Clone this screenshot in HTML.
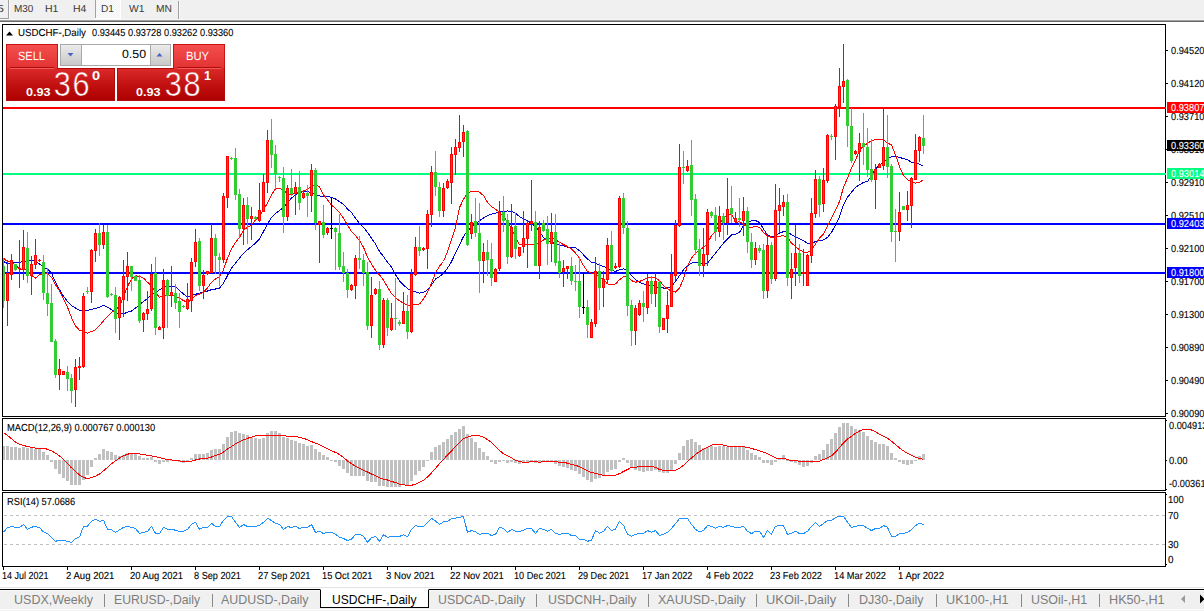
<!DOCTYPE html>
<html><head><meta charset="utf-8"><title>USDCHF-,Daily</title>
<style>
html,body{margin:0;padding:0;background:#fff;}
body{width:1204px;height:611px;position:relative;overflow:hidden;font-family:"Liberation Sans", sans-serif;}
.t{position:absolute;white-space:pre;transform-origin:0 0;line-height:normal;font-family:"Liberation Sans", sans-serif;}
.a{position:absolute;}
#chart{position:absolute;left:0;top:0;}
</style></head><body>
<!-- toolbar -->
<div class="a" style="left:0;top:0;width:1204px;height:20px;background:#f0f0f0"></div>
<div class="a" style="left:0;top:19px;width:1204px;height:1px;background:#f6f6f6"></div>
<div class="a" style="left:0;top:20px;width:1204px;height:1px;background:#a0a0a0"></div>
<div class="a" style="left:0;top:21px;width:1204px;height:1px;background:#696969"></div>
<div class="a" style="left:0;top:18px;width:9px;height:1px;background:#a0a0a0"></div>
<div class="a" style="left:8px;top:0;width:1px;height:19px;background:#a0a0a0"></div>
<div class="a" style="left:9px;top:0;width:1px;height:19px;background:#fafafa"></div>
<div class="a" style="left:95px;top:0px;width:1px;height:18px;background:#a0a0a0"></div>
<div class="a" style="left:96px;top:0;width:24px;height:18px;background-color:#f0f0f0;background-image:linear-gradient(45deg,#fff 25%,transparent 25%,transparent 75%,#fff 75%),linear-gradient(45deg,#fff 25%,transparent 25%,transparent 75%,#fff 75%);background-size:2px 2px;background-position:0 0,1px 1px"></div>
<div class="a" style="left:95px;top:18px;width:26px;height:1px;background:#fff"></div>
<div class="a" style="left:120px;top:0;width:1px;height:18px;background:#fff"></div>
<div class="a" style="left:178px;top:1px;width:1px;height:18px;background:#a0a0a0"></div>
<div class="a" style="left:179px;top:1px;width:1px;height:18px;background:#fafafa"></div>

<svg id="chart" width="1204" height="611" viewBox="0 0 1204 611" shape-rendering="crispEdges">
<rect x="1166" y="50" width="2" height="1" fill="#000"/>
<rect x="1166" y="83" width="2" height="1" fill="#000"/>
<rect x="1166" y="116" width="2" height="1" fill="#000"/>
<rect x="1166" y="149" width="2" height="1" fill="#000"/>
<rect x="1166" y="182" width="2" height="1" fill="#000"/>
<rect x="1166" y="215" width="2" height="1" fill="#000"/>
<rect x="1166" y="248" width="2" height="1" fill="#000"/>
<rect x="1166" y="281" width="2" height="1" fill="#000"/>
<rect x="1166" y="314" width="2" height="1" fill="#000"/>
<rect x="1166" y="347" width="2" height="1" fill="#000"/>
<rect x="1166" y="380" width="2" height="1" fill="#000"/>
<rect x="1166" y="413" width="2" height="1" fill="#000"/>
<rect x="1166" y="420" width="1" height="1" fill="#000"/>
<rect x="1166" y="460" width="1" height="1" fill="#000"/>
<rect x="1166" y="489" width="1" height="1" fill="#000"/>
<rect x="1166" y="494" width="1" height="1" fill="#000"/>
<rect x="1166" y="564" width="1" height="1" fill="#000"/>
<rect x="3" y="567" width="1" height="3" fill="#000"/>
<rect x="67" y="567" width="1" height="3" fill="#000"/>
<rect x="131" y="567" width="1" height="3" fill="#000"/>
<rect x="195" y="567" width="1" height="3" fill="#000"/>
<rect x="259" y="567" width="1" height="3" fill="#000"/>
<rect x="323" y="567" width="1" height="3" fill="#000"/>
<rect x="387" y="567" width="1" height="3" fill="#000"/>
<rect x="451" y="567" width="1" height="3" fill="#000"/>
<rect x="515" y="567" width="1" height="3" fill="#000"/>
<rect x="579" y="567" width="1" height="3" fill="#000"/>
<rect x="643" y="567" width="1" height="3" fill="#000"/>
<rect x="707" y="567" width="1" height="3" fill="#000"/>
<rect x="771" y="567" width="1" height="3" fill="#000"/>
<rect x="835" y="567" width="1" height="3" fill="#000"/>
<rect x="899" y="567" width="1" height="3" fill="#000"/>
<line x1="4" y1="515.5" x2="1165" y2="515.5" stroke="#c0c0c0" stroke-width="1" stroke-dasharray="3 3"/>
<line x1="4" y1="544.5" x2="1165" y2="544.5" stroke="#c0c0c0" stroke-width="1" stroke-dasharray="3 3"/>
<g shape-rendering="auto">
<rect x="3" y="107" width="1163" height="2" fill="#ff0000"/>
<rect x="3" y="173" width="1163" height="2" fill="#00ff80"/>
<rect x="3" y="223" width="1163" height="2" fill="#0000ff"/>
<rect x="3" y="272" width="1163" height="2" fill="#0000ff"/>
<polyline points="3.5,261.5 7.5,263.5 11.5,262.9 15.5,262.4 19.5,262.4 23.5,261.5 27.5,260.7 31.5,260.7 35.5,260.7 39.5,264.0 43.5,267.3 47.5,269.0 51.5,273.2 55.5,282.3 59.5,289.8 63.5,296.4 67.5,301.4 71.5,305.5 75.5,308.0 79.5,310.5 83.5,310.5 87.5,310.5 91.5,309.4 95.5,308.4 99.5,307.2 103.5,305.5 107.5,307.2 111.5,309.7 115.5,312.2 119.5,313.9 123.5,313.9 127.5,312.2 131.5,311.0 135.5,308.0 139.5,304.7 143.5,301.4 147.5,298.5 151.5,294.3 155.5,293.1 159.5,289.8 163.5,287.3 167.5,286.4 171.5,286.1 175.5,286.8 179.5,290.6 183.5,293.9 187.5,297.2 191.5,295.6 195.5,294.3 199.5,293.1 203.5,292.2 207.5,291.0 211.5,289.7 215.5,289.0 219.5,288.0 223.5,283.1 227.5,275.6 231.5,268.1 235.5,263.1 239.5,258.1 243.5,253.2 247.5,249.8 251.5,246.5 255.5,243.2 259.5,239.0 263.5,231.6 267.5,224.1 271.5,217.4 275.5,213.3 279.5,210.8 283.5,206.9 287.5,202.8 291.5,198.0 295.5,194.7 299.5,192.7 303.5,191.7 307.5,191.4 311.5,192.7 315.5,195.0 319.5,196.0 323.5,196.4 327.5,196.7 331.5,197.2 335.5,198.9 339.5,201.8 343.5,204.3 347.5,209.0 351.5,212.5 355.5,218.3 359.5,223.3 363.5,227.4 367.5,232.4 371.5,238.2 375.5,244.0 379.5,251.5 383.5,256.5 387.5,262.3 391.5,267.0 395.5,274.9 399.5,280.8 403.5,284.9 407.5,288.6 411.5,290.7 415.5,291.9 419.5,293.2 423.5,292.4 427.5,289.9 431.5,284.9 435.5,279.1 439.5,276.6 443.5,273.6 447.5,268.2 451.5,261.6 455.5,253.2 459.5,244.9 463.5,236.5 467.5,230.7 471.5,227.4 475.5,224.1 479.5,220.8 483.5,217.9 487.5,215.8 491.5,214.1 495.5,213.3 499.5,211.3 503.5,211.1 507.5,211.0 511.5,211.3 515.5,213.3 519.5,216.6 523.5,219.1 527.5,220.8 531.5,223.3 535.5,226.6 539.5,231.6 543.5,237.4 547.5,240.7 551.5,242.4 555.5,243.6 559.5,245.2 563.5,245.7 567.5,247.3 571.5,247.7 575.5,247.7 579.5,250.7 583.5,254.8 587.5,259.0 591.5,262.3 595.5,263.1 599.5,265.2 603.5,266.4 607.5,267.8 611.5,270.6 615.5,271.4 619.5,269.8 623.5,268.9 627.5,270.6 631.5,275.6 635.5,279.7 639.5,282.2 643.5,283.9 647.5,284.7 651.5,285.5 655.5,286.4 659.5,287.7 663.5,288.0 667.5,288.0 671.5,286.4 675.5,281.4 679.5,275.6 683.5,269.8 687.5,265.6 691.5,263.1 695.5,262.6 699.5,263.1 703.5,264.5 707.5,263.1 711.5,258.1 715.5,253.2 719.5,248.2 723.5,243.2 727.5,239.0 731.5,234.9 735.5,234.1 739.5,232.4 743.5,225.8 747.5,222.5 751.5,220.8 755.5,220.5 759.5,222.5 763.5,229.1 767.5,234.9 771.5,236.6 775.5,235.7 779.5,233.3 783.5,231.6 787.5,231.6 791.5,234.9 795.5,236.6 799.5,238.6 803.5,240.7 807.5,243.2 811.5,243.2 815.5,241.6 819.5,240.7 823.5,239.9 827.5,237.4 831.5,232.4 835.5,225.0 839.5,216.6 843.5,204.8 847.5,197.3 851.5,192.3 855.5,187.3 859.5,184.8 863.5,182.3 867.5,181.5 871.5,175.7 875.5,169.0 879.5,164.9 883.5,162.8 887.5,158.7 891.5,156.6 895.5,156.6 899.5,157.4 903.5,158.6 907.5,159.9 911.5,162.1 915.5,162.7 919.5,164.1 923.5,166.5" fill="none" stroke="#0000cd" stroke-width="1" shape-rendering="crispEdges"/>
<polyline points="3.5,258.2 7.5,261.5 11.5,262.4 15.5,264.9 19.5,269.0 23.5,269.0 27.5,270.7 31.5,275.6 35.5,278.1 39.5,274.8 43.5,273.2 47.5,274.0 51.5,277.3 55.5,284.8 59.5,290.6 63.5,298.9 67.5,307.2 71.5,317.7 75.5,325.8 79.5,330.3 83.5,331.6 87.5,333.1 91.5,331.6 95.5,329.6 99.5,325.8 103.5,320.8 107.5,316.6 111.5,312.5 115.5,309.7 119.5,306.4 123.5,296.4 127.5,286.4 131.5,279.0 135.5,275.6 139.5,276.5 143.5,278.1 147.5,282.3 151.5,285.6 155.5,293.1 159.5,297.2 163.5,296.4 167.5,295.6 171.5,295.6 175.5,296.4 179.5,298.1 183.5,300.6 187.5,302.2 191.5,299.7 195.5,295.5 199.5,294.0 203.5,292.2 207.5,288.0 211.5,282.2 215.5,278.9 219.5,276.7 223.5,269.8 227.5,258.1 231.5,249.0 235.5,242.4 239.5,237.4 243.5,229.9 247.5,227.4 251.5,224.9 255.5,219.9 259.5,215.8 263.5,210.0 267.5,202.8 271.5,194.7 275.5,188.9 279.5,188.7 283.5,189.7 287.5,193.9 291.5,194.7 295.5,193.1 299.5,191.4 303.5,190.9 307.5,189.4 311.5,186.1 315.5,185.1 319.5,186.7 323.5,194.7 327.5,199.7 331.5,205.2 335.5,208.3 339.5,212.5 343.5,218.3 347.5,224.9 351.5,231.6 355.5,235.7 359.5,240.7 363.5,247.3 367.5,257.3 371.5,264.1 375.5,270.3 379.5,274.9 383.5,280.2 387.5,286.9 391.5,293.5 395.5,297.7 399.5,300.7 403.5,303.2 407.5,305.2 411.5,305.2 415.5,304.7 419.5,304.0 423.5,299.0 427.5,292.4 431.5,283.3 435.5,272.8 439.5,266.2 443.5,261.5 447.5,251.5 451.5,239.9 455.5,227.4 459.5,207.7 463.5,199.2 467.5,193.1 471.5,191.4 475.5,191.1 479.5,192.2 483.5,195.5 487.5,202.2 491.5,206.5 495.5,209.1 499.5,212.5 503.5,216.6 507.5,221.6 511.5,228.2 515.5,237.4 519.5,244.9 523.5,244.5 527.5,244.4 531.5,244.4 535.5,244.0 539.5,243.2 543.5,239.9 547.5,238.2 551.5,237.9 555.5,239.5 559.5,242.4 563.5,244.5 567.5,246.5 571.5,249.0 575.5,253.2 579.5,258.1 583.5,265.6 587.5,271.4 591.5,273.1 595.5,273.9 599.5,277.1 603.5,279.4 607.5,283.9 611.5,284.7 615.5,283.9 619.5,279.7 623.5,276.7 627.5,276.4 631.5,280.6 635.5,282.2 639.5,281.4 643.5,279.7 647.5,278.1 651.5,277.7 655.5,278.1 659.5,280.6 663.5,285.5 667.5,288.9 671.5,291.0 675.5,292.2 679.5,288.0 683.5,278.9 687.5,265.6 691.5,258.1 695.5,253.2 699.5,249.8 703.5,247.3 707.5,243.2 711.5,235.7 715.5,231.6 719.5,224.9 723.5,217.4 727.5,215.0 731.5,214.1 735.5,222.5 739.5,221.6 743.5,224.1 747.5,227.4 751.5,227.4 755.5,226.6 759.5,227.4 763.5,232.4 767.5,235.7 771.5,237.4 775.5,237.0 779.5,236.2 783.5,235.7 787.5,237.4 791.5,243.2 795.5,246.5 799.5,249.9 803.5,251.9 807.5,252.4 811.5,249.9 815.5,244.1 819.5,238.2 823.5,234.1 827.5,225.8 831.5,218.3 835.5,210.3 839.5,201.4 843.5,187.3 847.5,178.2 851.5,168.2 855.5,159.9 859.5,150.8 863.5,145.8 867.5,143.3 871.5,140.8 875.5,139.5 879.5,139.1 883.5,140.0 887.5,142.9 891.5,145.0 895.5,154.9 899.5,166.5 903.5,175.7 907.5,179.8 911.5,181.5 915.5,183.2 919.5,182.3 923.5,179.8" fill="none" stroke="#ff0000" stroke-width="1" shape-rendering="crispEdges"/>
<rect x="3" y="258" width="1" height="50" fill="#32cd32"/>
<rect x="2" y="266" width="3" height="35" fill="#32cd32"/>
<rect x="7" y="260" width="1" height="66" fill="#ff0000"/>
<rect x="6" y="273" width="3" height="28" fill="#ff0000"/>
<rect x="7" y="274" width="1" height="26" fill="#ff4500"/>
<rect x="11" y="254" width="1" height="26" fill="#ff0000"/>
<rect x="10" y="260" width="3" height="15" fill="#ff0000"/>
<rect x="11" y="261" width="1" height="13" fill="#ff4500"/>
<rect x="15" y="264" width="1" height="7" fill="#32cd32"/>
<rect x="14" y="264" width="3" height="6" fill="#32cd32"/>
<rect x="19" y="240" width="1" height="48" fill="#ff0000"/>
<rect x="18" y="268" width="3" height="1" fill="#ff0000"/>
<rect x="23" y="230" width="1" height="50" fill="#ff0000"/>
<rect x="22" y="247" width="3" height="23" fill="#ff0000"/>
<rect x="23" y="248" width="1" height="21" fill="#ff4500"/>
<rect x="27" y="232" width="1" height="51" fill="#32cd32"/>
<rect x="26" y="248" width="3" height="28" fill="#32cd32"/>
<rect x="31" y="256" width="1" height="39" fill="#ff0000"/>
<rect x="30" y="264" width="3" height="12" fill="#ff0000"/>
<rect x="31" y="265" width="1" height="10" fill="#ff4500"/>
<rect x="35" y="239" width="1" height="30" fill="#ff0000"/>
<rect x="34" y="255" width="3" height="10" fill="#ff0000"/>
<rect x="35" y="256" width="1" height="8" fill="#ff4500"/>
<rect x="39" y="259" width="1" height="3" fill="#ff0000"/>
<rect x="38" y="260" width="3" height="1" fill="#ff0000"/>
<rect x="43" y="255" width="1" height="45" fill="#32cd32"/>
<rect x="42" y="262" width="3" height="31" fill="#32cd32"/>
<rect x="47" y="268" width="1" height="48" fill="#32cd32"/>
<rect x="46" y="293" width="3" height="11" fill="#32cd32"/>
<rect x="51" y="284" width="1" height="58" fill="#32cd32"/>
<rect x="50" y="303" width="3" height="39" fill="#32cd32"/>
<rect x="55" y="339" width="1" height="39" fill="#32cd32"/>
<rect x="54" y="341" width="3" height="34" fill="#32cd32"/>
<rect x="59" y="359" width="1" height="31" fill="#ff0000"/>
<rect x="58" y="369" width="3" height="6" fill="#ff0000"/>
<rect x="59" y="370" width="1" height="4" fill="#ff4500"/>
<rect x="63" y="371" width="1" height="4" fill="#ff0000"/>
<rect x="62" y="371" width="3" height="4" fill="#ff0000"/>
<rect x="63" y="372" width="1" height="2" fill="#ff4500"/>
<rect x="67" y="366" width="1" height="25" fill="#32cd32"/>
<rect x="66" y="372" width="3" height="7" fill="#32cd32"/>
<rect x="71" y="374" width="1" height="29" fill="#32cd32"/>
<rect x="70" y="378" width="3" height="13" fill="#32cd32"/>
<rect x="75" y="359" width="1" height="48" fill="#ff0000"/>
<rect x="74" y="367" width="3" height="23" fill="#ff0000"/>
<rect x="75" y="368" width="1" height="21" fill="#ff4500"/>
<rect x="79" y="357" width="1" height="23" fill="#ff0000"/>
<rect x="78" y="366" width="3" height="2" fill="#ff0000"/>
<rect x="83" y="293" width="1" height="75" fill="#ff0000"/>
<rect x="82" y="296" width="3" height="71" fill="#ff0000"/>
<rect x="83" y="297" width="1" height="69" fill="#ff4500"/>
<rect x="87" y="287" width="1" height="7" fill="#32cd32"/>
<rect x="86" y="291" width="3" height="1" fill="#32cd32"/>
<rect x="91" y="249" width="1" height="54" fill="#ff0000"/>
<rect x="90" y="250" width="3" height="42" fill="#ff0000"/>
<rect x="91" y="251" width="1" height="40" fill="#ff4500"/>
<rect x="95" y="229" width="1" height="33" fill="#ff0000"/>
<rect x="94" y="233" width="3" height="18" fill="#ff0000"/>
<rect x="95" y="234" width="1" height="16" fill="#ff4500"/>
<rect x="99" y="223" width="1" height="33" fill="#32cd32"/>
<rect x="98" y="233" width="3" height="12" fill="#32cd32"/>
<rect x="103" y="225" width="1" height="24" fill="#ff0000"/>
<rect x="102" y="232" width="3" height="13" fill="#ff0000"/>
<rect x="103" y="233" width="1" height="11" fill="#ff4500"/>
<rect x="107" y="225" width="1" height="73" fill="#32cd32"/>
<rect x="106" y="232" width="3" height="65" fill="#32cd32"/>
<rect x="111" y="293" width="1" height="3" fill="#32cd32"/>
<rect x="110" y="294" width="3" height="1" fill="#32cd32"/>
<rect x="115" y="287" width="1" height="46" fill="#32cd32"/>
<rect x="114" y="295" width="3" height="24" fill="#32cd32"/>
<rect x="119" y="296" width="1" height="44" fill="#ff0000"/>
<rect x="118" y="297" width="3" height="21" fill="#ff0000"/>
<rect x="119" y="298" width="1" height="19" fill="#ff4500"/>
<rect x="123" y="260" width="1" height="57" fill="#ff0000"/>
<rect x="122" y="276" width="3" height="24" fill="#ff0000"/>
<rect x="123" y="277" width="1" height="22" fill="#ff4500"/>
<rect x="127" y="252" width="1" height="49" fill="#ff0000"/>
<rect x="126" y="266" width="3" height="11" fill="#ff0000"/>
<rect x="127" y="267" width="1" height="9" fill="#ff4500"/>
<rect x="131" y="266" width="1" height="25" fill="#32cd32"/>
<rect x="130" y="266" width="3" height="11" fill="#32cd32"/>
<rect x="135" y="275" width="1" height="6" fill="#32cd32"/>
<rect x="134" y="276" width="3" height="5" fill="#32cd32"/>
<rect x="139" y="275" width="1" height="48" fill="#32cd32"/>
<rect x="138" y="280" width="3" height="41" fill="#32cd32"/>
<rect x="143" y="312" width="1" height="20" fill="#ff0000"/>
<rect x="142" y="313" width="3" height="7" fill="#ff0000"/>
<rect x="143" y="314" width="1" height="5" fill="#ff4500"/>
<rect x="147" y="291" width="1" height="29" fill="#ff0000"/>
<rect x="146" y="309" width="3" height="5" fill="#ff0000"/>
<rect x="147" y="310" width="1" height="3" fill="#ff4500"/>
<rect x="151" y="264" width="1" height="47" fill="#ff0000"/>
<rect x="150" y="274" width="3" height="35" fill="#ff0000"/>
<rect x="151" y="275" width="1" height="33" fill="#ff4500"/>
<rect x="155" y="257" width="1" height="78" fill="#32cd32"/>
<rect x="154" y="273" width="3" height="55" fill="#32cd32"/>
<rect x="159" y="326" width="1" height="4" fill="#ff0000"/>
<rect x="158" y="327" width="3" height="3" fill="#ff0000"/>
<rect x="159" y="328" width="1" height="1" fill="#ff4500"/>
<rect x="163" y="269" width="1" height="70" fill="#ff0000"/>
<rect x="162" y="280" width="3" height="48" fill="#ff0000"/>
<rect x="163" y="281" width="1" height="46" fill="#ff4500"/>
<rect x="167" y="279" width="1" height="49" fill="#32cd32"/>
<rect x="166" y="280" width="3" height="16" fill="#32cd32"/>
<rect x="171" y="266" width="1" height="41" fill="#ff0000"/>
<rect x="170" y="292" width="3" height="4" fill="#ff0000"/>
<rect x="171" y="293" width="1" height="2" fill="#ff4500"/>
<rect x="175" y="284" width="1" height="25" fill="#32cd32"/>
<rect x="174" y="293" width="3" height="10" fill="#32cd32"/>
<rect x="179" y="293" width="1" height="35" fill="#32cd32"/>
<rect x="178" y="301" width="3" height="11" fill="#32cd32"/>
<rect x="183" y="305" width="1" height="3" fill="#32cd32"/>
<rect x="182" y="306" width="3" height="1" fill="#32cd32"/>
<rect x="187" y="283" width="1" height="27" fill="#ff0000"/>
<rect x="186" y="299" width="3" height="10" fill="#ff0000"/>
<rect x="187" y="300" width="1" height="8" fill="#ff4500"/>
<rect x="191" y="258" width="1" height="54" fill="#ff0000"/>
<rect x="190" y="262" width="3" height="39" fill="#ff0000"/>
<rect x="191" y="263" width="1" height="37" fill="#ff4500"/>
<rect x="195" y="229" width="1" height="38" fill="#ff0000"/>
<rect x="194" y="242" width="3" height="20" fill="#ff0000"/>
<rect x="195" y="243" width="1" height="18" fill="#ff4500"/>
<rect x="199" y="238" width="1" height="53" fill="#32cd32"/>
<rect x="198" y="241" width="3" height="45" fill="#32cd32"/>
<rect x="203" y="270" width="1" height="29" fill="#ff0000"/>
<rect x="202" y="275" width="3" height="11" fill="#ff0000"/>
<rect x="203" y="276" width="1" height="9" fill="#ff4500"/>
<rect x="207" y="271" width="1" height="4" fill="#ff0000"/>
<rect x="206" y="271" width="3" height="3" fill="#ff0000"/>
<rect x="207" y="272" width="1" height="1" fill="#ff4500"/>
<rect x="211" y="224" width="1" height="49" fill="#ff0000"/>
<rect x="210" y="238" width="3" height="35" fill="#ff0000"/>
<rect x="211" y="239" width="1" height="33" fill="#ff4500"/>
<rect x="215" y="234" width="1" height="40" fill="#32cd32"/>
<rect x="214" y="238" width="3" height="18" fill="#32cd32"/>
<rect x="219" y="253" width="1" height="33" fill="#32cd32"/>
<rect x="218" y="257" width="3" height="3" fill="#32cd32"/>
<rect x="223" y="193" width="1" height="70" fill="#ff0000"/>
<rect x="222" y="196" width="3" height="64" fill="#ff0000"/>
<rect x="223" y="197" width="1" height="62" fill="#ff4500"/>
<rect x="227" y="156" width="1" height="52" fill="#ff0000"/>
<rect x="226" y="156" width="3" height="42" fill="#ff0000"/>
<rect x="227" y="157" width="1" height="40" fill="#ff4500"/>
<rect x="231" y="157" width="1" height="3" fill="#32cd32"/>
<rect x="230" y="158" width="3" height="1" fill="#32cd32"/>
<rect x="235" y="148" width="1" height="52" fill="#32cd32"/>
<rect x="234" y="158" width="3" height="37" fill="#32cd32"/>
<rect x="239" y="189" width="1" height="48" fill="#32cd32"/>
<rect x="238" y="194" width="3" height="35" fill="#32cd32"/>
<rect x="243" y="198" width="1" height="47" fill="#ff0000"/>
<rect x="242" y="205" width="3" height="24" fill="#ff0000"/>
<rect x="243" y="206" width="1" height="22" fill="#ff4500"/>
<rect x="247" y="197" width="1" height="47" fill="#32cd32"/>
<rect x="246" y="205" width="3" height="14" fill="#32cd32"/>
<rect x="251" y="207" width="1" height="33" fill="#ff0000"/>
<rect x="250" y="216" width="3" height="3" fill="#ff0000"/>
<rect x="251" y="217" width="1" height="1" fill="#ff4500"/>
<rect x="255" y="216" width="1" height="4" fill="#32cd32"/>
<rect x="254" y="217" width="3" height="2" fill="#32cd32"/>
<rect x="259" y="183" width="1" height="39" fill="#ff0000"/>
<rect x="258" y="210" width="3" height="11" fill="#ff0000"/>
<rect x="259" y="211" width="1" height="9" fill="#ff4500"/>
<rect x="263" y="174" width="1" height="38" fill="#ff0000"/>
<rect x="262" y="182" width="3" height="30" fill="#ff0000"/>
<rect x="263" y="183" width="1" height="28" fill="#ff4500"/>
<rect x="267" y="130" width="1" height="63" fill="#ff0000"/>
<rect x="266" y="140" width="3" height="43" fill="#ff0000"/>
<rect x="267" y="141" width="1" height="41" fill="#ff4500"/>
<rect x="271" y="119" width="1" height="49" fill="#32cd32"/>
<rect x="270" y="140" width="3" height="15" fill="#32cd32"/>
<rect x="275" y="145" width="1" height="44" fill="#32cd32"/>
<rect x="274" y="154" width="3" height="20" fill="#32cd32"/>
<rect x="279" y="176" width="1" height="6" fill="#32cd32"/>
<rect x="278" y="177" width="3" height="1" fill="#32cd32"/>
<rect x="283" y="167" width="1" height="66" fill="#32cd32"/>
<rect x="282" y="178" width="3" height="39" fill="#32cd32"/>
<rect x="287" y="185" width="1" height="36" fill="#ff0000"/>
<rect x="286" y="188" width="3" height="29" fill="#ff0000"/>
<rect x="287" y="189" width="1" height="27" fill="#ff4500"/>
<rect x="291" y="169" width="1" height="27" fill="#32cd32"/>
<rect x="290" y="188" width="3" height="6" fill="#32cd32"/>
<rect x="295" y="182" width="1" height="33" fill="#ff0000"/>
<rect x="294" y="187" width="3" height="7" fill="#ff0000"/>
<rect x="295" y="188" width="1" height="5" fill="#ff4500"/>
<rect x="299" y="171" width="1" height="39" fill="#32cd32"/>
<rect x="298" y="187" width="3" height="16" fill="#32cd32"/>
<rect x="303" y="191" width="1" height="8" fill="#ff0000"/>
<rect x="302" y="193" width="3" height="5" fill="#ff0000"/>
<rect x="303" y="194" width="1" height="3" fill="#ff4500"/>
<rect x="307" y="185" width="1" height="32" fill="#32cd32"/>
<rect x="306" y="193" width="3" height="3" fill="#32cd32"/>
<rect x="311" y="164" width="1" height="48" fill="#ff0000"/>
<rect x="310" y="170" width="3" height="26" fill="#ff0000"/>
<rect x="311" y="171" width="1" height="24" fill="#ff4500"/>
<rect x="315" y="168" width="1" height="62" fill="#32cd32"/>
<rect x="314" y="170" width="3" height="53" fill="#32cd32"/>
<rect x="319" y="221" width="1" height="42" fill="#ff0000"/>
<rect x="318" y="221" width="3" height="4" fill="#ff0000"/>
<rect x="319" y="222" width="1" height="2" fill="#ff4500"/>
<rect x="323" y="205" width="1" height="33" fill="#32cd32"/>
<rect x="322" y="222" width="3" height="13" fill="#32cd32"/>
<rect x="327" y="227" width="1" height="8" fill="#ff0000"/>
<rect x="326" y="228" width="3" height="5" fill="#ff0000"/>
<rect x="327" y="229" width="1" height="3" fill="#ff4500"/>
<rect x="331" y="197" width="1" height="42" fill="#000"/>
<rect x="330" y="228" width="3" height="1" fill="#000"/>
<rect x="335" y="227" width="1" height="43" fill="#32cd32"/>
<rect x="334" y="228" width="3" height="4" fill="#32cd32"/>
<rect x="339" y="214" width="1" height="56" fill="#32cd32"/>
<rect x="338" y="233" width="3" height="34" fill="#32cd32"/>
<rect x="343" y="252" width="1" height="30" fill="#32cd32"/>
<rect x="342" y="266" width="3" height="7" fill="#32cd32"/>
<rect x="347" y="269" width="1" height="29" fill="#32cd32"/>
<rect x="346" y="273" width="3" height="17" fill="#32cd32"/>
<rect x="351" y="284" width="1" height="7" fill="#ff0000"/>
<rect x="350" y="285" width="3" height="5" fill="#ff0000"/>
<rect x="351" y="286" width="1" height="3" fill="#ff4500"/>
<rect x="355" y="255" width="1" height="44" fill="#ff0000"/>
<rect x="354" y="258" width="3" height="28" fill="#ff0000"/>
<rect x="355" y="259" width="1" height="26" fill="#ff4500"/>
<rect x="359" y="236" width="1" height="33" fill="#32cd32"/>
<rect x="358" y="258" width="3" height="2" fill="#32cd32"/>
<rect x="363" y="254" width="1" height="32" fill="#32cd32"/>
<rect x="362" y="260" width="3" height="13" fill="#32cd32"/>
<rect x="367" y="262" width="1" height="68" fill="#32cd32"/>
<rect x="366" y="272" width="3" height="54" fill="#32cd32"/>
<rect x="371" y="277" width="1" height="61" fill="#ff0000"/>
<rect x="370" y="295" width="3" height="31" fill="#ff0000"/>
<rect x="371" y="296" width="1" height="29" fill="#ff4500"/>
<rect x="375" y="288" width="1" height="7" fill="#ff0000"/>
<rect x="374" y="289" width="3" height="5" fill="#ff0000"/>
<rect x="375" y="290" width="1" height="3" fill="#ff4500"/>
<rect x="379" y="281" width="1" height="69" fill="#32cd32"/>
<rect x="378" y="289" width="3" height="56" fill="#32cd32"/>
<rect x="383" y="298" width="1" height="50" fill="#ff0000"/>
<rect x="382" y="300" width="3" height="45" fill="#ff0000"/>
<rect x="383" y="301" width="1" height="43" fill="#ff4500"/>
<rect x="387" y="298" width="1" height="38" fill="#32cd32"/>
<rect x="386" y="300" width="3" height="28" fill="#32cd32"/>
<rect x="391" y="303" width="1" height="28" fill="#ff0000"/>
<rect x="390" y="318" width="3" height="12" fill="#ff0000"/>
<rect x="391" y="319" width="1" height="10" fill="#ff4500"/>
<rect x="395" y="278" width="1" height="52" fill="#32cd32"/>
<rect x="394" y="318" width="3" height="1" fill="#32cd32"/>
<rect x="399" y="320" width="1" height="6" fill="#32cd32"/>
<rect x="398" y="322" width="3" height="2" fill="#32cd32"/>
<rect x="403" y="292" width="1" height="32" fill="#ff0000"/>
<rect x="402" y="311" width="3" height="13" fill="#ff0000"/>
<rect x="403" y="312" width="1" height="11" fill="#ff4500"/>
<rect x="407" y="295" width="1" height="44" fill="#32cd32"/>
<rect x="406" y="311" width="3" height="21" fill="#32cd32"/>
<rect x="411" y="269" width="1" height="64" fill="#ff0000"/>
<rect x="410" y="274" width="3" height="58" fill="#ff0000"/>
<rect x="411" y="275" width="1" height="56" fill="#ff4500"/>
<rect x="415" y="237" width="1" height="39" fill="#ff0000"/>
<rect x="414" y="247" width="3" height="28" fill="#ff0000"/>
<rect x="415" y="248" width="1" height="26" fill="#ff4500"/>
<rect x="419" y="226" width="1" height="30" fill="#32cd32"/>
<rect x="418" y="247" width="3" height="4" fill="#32cd32"/>
<rect x="423" y="247" width="1" height="4" fill="#ff0000"/>
<rect x="422" y="248" width="3" height="2" fill="#ff0000"/>
<rect x="427" y="210" width="1" height="59" fill="#ff0000"/>
<rect x="426" y="214" width="3" height="35" fill="#ff0000"/>
<rect x="427" y="215" width="1" height="33" fill="#ff4500"/>
<rect x="431" y="166" width="1" height="61" fill="#ff0000"/>
<rect x="430" y="172" width="3" height="43" fill="#ff0000"/>
<rect x="431" y="173" width="1" height="41" fill="#ff4500"/>
<rect x="435" y="151" width="1" height="45" fill="#32cd32"/>
<rect x="434" y="172" width="3" height="15" fill="#32cd32"/>
<rect x="439" y="182" width="1" height="35" fill="#32cd32"/>
<rect x="438" y="187" width="3" height="24" fill="#32cd32"/>
<rect x="443" y="183" width="1" height="34" fill="#ff0000"/>
<rect x="442" y="188" width="3" height="23" fill="#ff0000"/>
<rect x="443" y="189" width="1" height="21" fill="#ff4500"/>
<rect x="447" y="179" width="1" height="10" fill="#ff0000"/>
<rect x="446" y="181" width="3" height="7" fill="#ff0000"/>
<rect x="447" y="182" width="1" height="5" fill="#ff4500"/>
<rect x="451" y="147" width="1" height="57" fill="#ff0000"/>
<rect x="450" y="154" width="3" height="29" fill="#ff0000"/>
<rect x="451" y="155" width="1" height="27" fill="#ff4500"/>
<rect x="455" y="139" width="1" height="36" fill="#ff0000"/>
<rect x="454" y="147" width="3" height="8" fill="#ff0000"/>
<rect x="455" y="148" width="1" height="6" fill="#ff4500"/>
<rect x="459" y="115" width="1" height="37" fill="#ff0000"/>
<rect x="458" y="142" width="3" height="6" fill="#ff0000"/>
<rect x="459" y="143" width="1" height="4" fill="#ff4500"/>
<rect x="463" y="125" width="1" height="32" fill="#ff0000"/>
<rect x="462" y="132" width="3" height="10" fill="#ff0000"/>
<rect x="463" y="133" width="1" height="8" fill="#ff4500"/>
<rect x="467" y="130" width="1" height="116" fill="#32cd32"/>
<rect x="466" y="131" width="3" height="114" fill="#32cd32"/>
<rect x="471" y="214" width="1" height="25" fill="#ff0000"/>
<rect x="470" y="222" width="3" height="12" fill="#ff0000"/>
<rect x="471" y="223" width="1" height="10" fill="#ff4500"/>
<rect x="475" y="198" width="1" height="39" fill="#32cd32"/>
<rect x="474" y="221" width="3" height="12" fill="#32cd32"/>
<rect x="479" y="203" width="1" height="90" fill="#32cd32"/>
<rect x="478" y="233" width="3" height="28" fill="#32cd32"/>
<rect x="483" y="243" width="1" height="40" fill="#ff0000"/>
<rect x="482" y="252" width="3" height="9" fill="#ff0000"/>
<rect x="483" y="253" width="1" height="7" fill="#ff4500"/>
<rect x="487" y="240" width="1" height="36" fill="#32cd32"/>
<rect x="486" y="252" width="3" height="8" fill="#32cd32"/>
<rect x="491" y="243" width="1" height="43" fill="#32cd32"/>
<rect x="490" y="259" width="3" height="19" fill="#32cd32"/>
<rect x="495" y="268" width="1" height="14" fill="#ff0000"/>
<rect x="494" y="269" width="3" height="13" fill="#ff0000"/>
<rect x="495" y="270" width="1" height="11" fill="#ff4500"/>
<rect x="499" y="201" width="1" height="70" fill="#ff0000"/>
<rect x="498" y="212" width="3" height="57" fill="#ff0000"/>
<rect x="499" y="213" width="1" height="55" fill="#ff4500"/>
<rect x="503" y="196" width="1" height="36" fill="#32cd32"/>
<rect x="502" y="212" width="3" height="9" fill="#32cd32"/>
<rect x="507" y="214" width="1" height="50" fill="#32cd32"/>
<rect x="506" y="220" width="3" height="37" fill="#32cd32"/>
<rect x="511" y="204" width="1" height="54" fill="#ff0000"/>
<rect x="510" y="227" width="3" height="30" fill="#ff0000"/>
<rect x="511" y="228" width="1" height="28" fill="#ff4500"/>
<rect x="515" y="213" width="1" height="46" fill="#32cd32"/>
<rect x="514" y="226" width="3" height="23" fill="#32cd32"/>
<rect x="519" y="247" width="1" height="10" fill="#ff0000"/>
<rect x="518" y="247" width="3" height="9" fill="#ff0000"/>
<rect x="519" y="248" width="1" height="7" fill="#ff4500"/>
<rect x="523" y="211" width="1" height="42" fill="#ff0000"/>
<rect x="522" y="238" width="3" height="9" fill="#ff0000"/>
<rect x="523" y="239" width="1" height="7" fill="#ff4500"/>
<rect x="527" y="221" width="1" height="47" fill="#ff0000"/>
<rect x="526" y="223" width="3" height="16" fill="#ff0000"/>
<rect x="527" y="224" width="1" height="14" fill="#ff4500"/>
<rect x="531" y="180" width="1" height="51" fill="#ff0000"/>
<rect x="530" y="221" width="3" height="3" fill="#ff0000"/>
<rect x="531" y="222" width="1" height="1" fill="#ff4500"/>
<rect x="535" y="211" width="1" height="55" fill="#32cd32"/>
<rect x="534" y="222" width="3" height="44" fill="#32cd32"/>
<rect x="539" y="221" width="1" height="58" fill="#ff0000"/>
<rect x="538" y="227" width="3" height="39" fill="#ff0000"/>
<rect x="539" y="228" width="1" height="37" fill="#ff4500"/>
<rect x="543" y="220" width="1" height="12" fill="#32cd32"/>
<rect x="542" y="223" width="3" height="8" fill="#32cd32"/>
<rect x="547" y="216" width="1" height="49" fill="#32cd32"/>
<rect x="546" y="229" width="3" height="15" fill="#32cd32"/>
<rect x="551" y="213" width="1" height="49" fill="#ff0000"/>
<rect x="550" y="232" width="3" height="12" fill="#ff0000"/>
<rect x="551" y="233" width="1" height="10" fill="#ff4500"/>
<rect x="555" y="214" width="1" height="52" fill="#32cd32"/>
<rect x="554" y="232" width="3" height="31" fill="#32cd32"/>
<rect x="559" y="242" width="1" height="36" fill="#32cd32"/>
<rect x="558" y="261" width="3" height="12" fill="#32cd32"/>
<rect x="563" y="260" width="1" height="27" fill="#ff0000"/>
<rect x="562" y="268" width="3" height="4" fill="#ff0000"/>
<rect x="563" y="269" width="1" height="2" fill="#ff4500"/>
<rect x="567" y="266" width="1" height="13" fill="#ff0000"/>
<rect x="566" y="266" width="3" height="3" fill="#ff0000"/>
<rect x="567" y="267" width="1" height="1" fill="#ff4500"/>
<rect x="571" y="257" width="1" height="28" fill="#32cd32"/>
<rect x="570" y="266" width="3" height="15" fill="#32cd32"/>
<rect x="575" y="265" width="1" height="26" fill="#32cd32"/>
<rect x="574" y="281" width="3" height="1" fill="#32cd32"/>
<rect x="579" y="257" width="1" height="61" fill="#32cd32"/>
<rect x="578" y="281" width="3" height="26" fill="#32cd32"/>
<rect x="583" y="273" width="1" height="41" fill="#000"/>
<rect x="582" y="307" width="3" height="1" fill="#000"/>
<rect x="587" y="300" width="1" height="38" fill="#32cd32"/>
<rect x="586" y="307" width="3" height="18" fill="#32cd32"/>
<rect x="591" y="319" width="1" height="19" fill="#ff0000"/>
<rect x="590" y="322" width="3" height="16" fill="#ff0000"/>
<rect x="591" y="323" width="1" height="14" fill="#ff4500"/>
<rect x="595" y="257" width="1" height="70" fill="#ff0000"/>
<rect x="594" y="271" width="3" height="53" fill="#ff0000"/>
<rect x="595" y="272" width="1" height="51" fill="#ff4500"/>
<rect x="599" y="263" width="1" height="47" fill="#32cd32"/>
<rect x="598" y="271" width="3" height="17" fill="#32cd32"/>
<rect x="603" y="271" width="1" height="36" fill="#ff0000"/>
<rect x="602" y="279" width="3" height="9" fill="#ff0000"/>
<rect x="603" y="280" width="1" height="7" fill="#ff4500"/>
<rect x="607" y="238" width="1" height="46" fill="#ff0000"/>
<rect x="606" y="245" width="3" height="35" fill="#ff0000"/>
<rect x="607" y="246" width="1" height="33" fill="#ff4500"/>
<rect x="611" y="231" width="1" height="41" fill="#32cd32"/>
<rect x="610" y="245" width="3" height="26" fill="#32cd32"/>
<rect x="615" y="263" width="1" height="6" fill="#ff0000"/>
<rect x="614" y="266" width="3" height="2" fill="#ff0000"/>
<rect x="619" y="196" width="1" height="72" fill="#ff0000"/>
<rect x="618" y="198" width="3" height="69" fill="#ff0000"/>
<rect x="619" y="199" width="1" height="67" fill="#ff4500"/>
<rect x="623" y="193" width="1" height="41" fill="#32cd32"/>
<rect x="622" y="198" width="3" height="30" fill="#32cd32"/>
<rect x="627" y="221" width="1" height="95" fill="#32cd32"/>
<rect x="626" y="228" width="3" height="78" fill="#32cd32"/>
<rect x="631" y="300" width="1" height="46" fill="#32cd32"/>
<rect x="630" y="305" width="3" height="26" fill="#32cd32"/>
<rect x="635" y="305" width="1" height="40" fill="#ff0000"/>
<rect x="634" y="308" width="3" height="23" fill="#ff0000"/>
<rect x="635" y="309" width="1" height="21" fill="#ff4500"/>
<rect x="639" y="300" width="1" height="16" fill="#ff0000"/>
<rect x="638" y="303" width="3" height="12" fill="#ff0000"/>
<rect x="639" y="304" width="1" height="10" fill="#ff4500"/>
<rect x="643" y="291" width="1" height="31" fill="#32cd32"/>
<rect x="642" y="303" width="3" height="4" fill="#32cd32"/>
<rect x="647" y="274" width="1" height="40" fill="#ff0000"/>
<rect x="646" y="281" width="3" height="27" fill="#ff0000"/>
<rect x="647" y="282" width="1" height="25" fill="#ff4500"/>
<rect x="651" y="276" width="1" height="28" fill="#32cd32"/>
<rect x="650" y="281" width="3" height="13" fill="#32cd32"/>
<rect x="655" y="273" width="1" height="34" fill="#ff0000"/>
<rect x="654" y="281" width="3" height="13" fill="#ff0000"/>
<rect x="655" y="282" width="1" height="11" fill="#ff4500"/>
<rect x="659" y="280" width="1" height="53" fill="#32cd32"/>
<rect x="658" y="282" width="3" height="45" fill="#32cd32"/>
<rect x="663" y="318" width="1" height="12" fill="#ff0000"/>
<rect x="662" y="318" width="3" height="12" fill="#ff0000"/>
<rect x="663" y="319" width="1" height="10" fill="#ff4500"/>
<rect x="667" y="291" width="1" height="42" fill="#ff0000"/>
<rect x="666" y="305" width="3" height="14" fill="#ff0000"/>
<rect x="667" y="306" width="1" height="12" fill="#ff4500"/>
<rect x="671" y="254" width="1" height="53" fill="#ff0000"/>
<rect x="670" y="274" width="3" height="33" fill="#ff0000"/>
<rect x="671" y="275" width="1" height="31" fill="#ff4500"/>
<rect x="675" y="220" width="1" height="61" fill="#ff0000"/>
<rect x="674" y="225" width="3" height="51" fill="#ff0000"/>
<rect x="675" y="226" width="1" height="49" fill="#ff4500"/>
<rect x="679" y="144" width="1" height="83" fill="#ff0000"/>
<rect x="678" y="167" width="3" height="59" fill="#ff0000"/>
<rect x="679" y="168" width="1" height="57" fill="#ff4500"/>
<rect x="683" y="151" width="1" height="33" fill="#32cd32"/>
<rect x="682" y="167" width="3" height="1" fill="#32cd32"/>
<rect x="687" y="160" width="1" height="12" fill="#ff0000"/>
<rect x="686" y="166" width="3" height="5" fill="#ff0000"/>
<rect x="687" y="167" width="1" height="3" fill="#ff4500"/>
<rect x="691" y="140" width="1" height="76" fill="#32cd32"/>
<rect x="690" y="165" width="3" height="35" fill="#32cd32"/>
<rect x="695" y="194" width="1" height="61" fill="#32cd32"/>
<rect x="694" y="199" width="3" height="51" fill="#32cd32"/>
<rect x="699" y="239" width="1" height="37" fill="#32cd32"/>
<rect x="698" y="249" width="3" height="17" fill="#32cd32"/>
<rect x="703" y="228" width="1" height="49" fill="#ff0000"/>
<rect x="702" y="254" width="3" height="12" fill="#ff0000"/>
<rect x="703" y="255" width="1" height="10" fill="#ff4500"/>
<rect x="707" y="209" width="1" height="57" fill="#ff0000"/>
<rect x="706" y="212" width="3" height="43" fill="#ff0000"/>
<rect x="707" y="213" width="1" height="41" fill="#ff4500"/>
<rect x="711" y="211" width="1" height="7" fill="#32cd32"/>
<rect x="710" y="212" width="3" height="4" fill="#32cd32"/>
<rect x="715" y="207" width="1" height="34" fill="#32cd32"/>
<rect x="714" y="215" width="3" height="17" fill="#32cd32"/>
<rect x="719" y="206" width="1" height="31" fill="#ff0000"/>
<rect x="718" y="216" width="3" height="16" fill="#ff0000"/>
<rect x="719" y="217" width="1" height="14" fill="#ff4500"/>
<rect x="723" y="213" width="1" height="27" fill="#32cd32"/>
<rect x="722" y="216" width="3" height="7" fill="#32cd32"/>
<rect x="727" y="178" width="1" height="57" fill="#ff0000"/>
<rect x="726" y="209" width="3" height="14" fill="#ff0000"/>
<rect x="727" y="210" width="1" height="12" fill="#ff4500"/>
<rect x="731" y="186" width="1" height="37" fill="#32cd32"/>
<rect x="730" y="208" width="3" height="6" fill="#32cd32"/>
<rect x="735" y="212" width="1" height="10" fill="#ff0000"/>
<rect x="734" y="218" width="3" height="4" fill="#ff0000"/>
<rect x="735" y="219" width="1" height="2" fill="#ff4500"/>
<rect x="739" y="198" width="1" height="29" fill="#32cd32"/>
<rect x="738" y="218" width="3" height="2" fill="#32cd32"/>
<rect x="743" y="197" width="1" height="39" fill="#ff0000"/>
<rect x="742" y="211" width="3" height="10" fill="#ff0000"/>
<rect x="743" y="212" width="1" height="8" fill="#ff4500"/>
<rect x="747" y="207" width="1" height="46" fill="#32cd32"/>
<rect x="746" y="211" width="3" height="31" fill="#32cd32"/>
<rect x="751" y="233" width="1" height="35" fill="#32cd32"/>
<rect x="750" y="242" width="3" height="18" fill="#32cd32"/>
<rect x="755" y="242" width="1" height="23" fill="#ff0000"/>
<rect x="754" y="248" width="3" height="12" fill="#ff0000"/>
<rect x="755" y="249" width="1" height="10" fill="#ff4500"/>
<rect x="759" y="245" width="1" height="8" fill="#32cd32"/>
<rect x="758" y="248" width="3" height="3" fill="#32cd32"/>
<rect x="763" y="244" width="1" height="55" fill="#32cd32"/>
<rect x="762" y="250" width="3" height="41" fill="#32cd32"/>
<rect x="767" y="235" width="1" height="63" fill="#ff0000"/>
<rect x="766" y="245" width="3" height="46" fill="#ff0000"/>
<rect x="767" y="246" width="1" height="44" fill="#ff4500"/>
<rect x="771" y="242" width="1" height="42" fill="#32cd32"/>
<rect x="770" y="245" width="3" height="34" fill="#32cd32"/>
<rect x="775" y="184" width="1" height="97" fill="#ff0000"/>
<rect x="774" y="210" width="3" height="69" fill="#ff0000"/>
<rect x="775" y="211" width="1" height="67" fill="#ff4500"/>
<rect x="779" y="188" width="1" height="45" fill="#ff0000"/>
<rect x="778" y="205" width="3" height="6" fill="#ff0000"/>
<rect x="779" y="206" width="1" height="4" fill="#ff4500"/>
<rect x="783" y="195" width="1" height="21" fill="#ff0000"/>
<rect x="782" y="202" width="3" height="5" fill="#ff0000"/>
<rect x="783" y="203" width="1" height="3" fill="#ff4500"/>
<rect x="787" y="194" width="1" height="92" fill="#32cd32"/>
<rect x="786" y="202" width="3" height="76" fill="#32cd32"/>
<rect x="791" y="253" width="1" height="46" fill="#ff0000"/>
<rect x="790" y="269" width="3" height="9" fill="#ff0000"/>
<rect x="791" y="270" width="1" height="7" fill="#ff4500"/>
<rect x="795" y="225" width="1" height="61" fill="#ff0000"/>
<rect x="794" y="253" width="3" height="15" fill="#ff0000"/>
<rect x="795" y="254" width="1" height="13" fill="#ff4500"/>
<rect x="799" y="244" width="1" height="39" fill="#32cd32"/>
<rect x="798" y="253" width="3" height="23" fill="#32cd32"/>
<rect x="803" y="249" width="1" height="37" fill="#ff0000"/>
<rect x="802" y="272" width="3" height="2" fill="#ff0000"/>
<rect x="807" y="254" width="1" height="32" fill="#ff0000"/>
<rect x="806" y="255" width="3" height="31" fill="#ff0000"/>
<rect x="807" y="256" width="1" height="29" fill="#ff4500"/>
<rect x="811" y="198" width="1" height="65" fill="#ff0000"/>
<rect x="810" y="213" width="3" height="43" fill="#ff0000"/>
<rect x="811" y="214" width="1" height="41" fill="#ff4500"/>
<rect x="815" y="170" width="1" height="48" fill="#ff0000"/>
<rect x="814" y="179" width="3" height="35" fill="#ff0000"/>
<rect x="815" y="180" width="1" height="33" fill="#ff4500"/>
<rect x="819" y="176" width="1" height="41" fill="#32cd32"/>
<rect x="818" y="179" width="3" height="26" fill="#32cd32"/>
<rect x="823" y="168" width="1" height="44" fill="#ff0000"/>
<rect x="822" y="180" width="3" height="24" fill="#ff0000"/>
<rect x="823" y="181" width="1" height="22" fill="#ff4500"/>
<rect x="827" y="134" width="1" height="49" fill="#ff0000"/>
<rect x="826" y="135" width="3" height="46" fill="#ff0000"/>
<rect x="827" y="136" width="1" height="44" fill="#ff4500"/>
<rect x="831" y="134" width="1" height="6" fill="#32cd32"/>
<rect x="830" y="136" width="3" height="1" fill="#32cd32"/>
<rect x="835" y="104" width="1" height="56" fill="#ff0000"/>
<rect x="834" y="106" width="3" height="31" fill="#ff0000"/>
<rect x="835" y="107" width="1" height="29" fill="#ff4500"/>
<rect x="839" y="68" width="1" height="49" fill="#ff0000"/>
<rect x="838" y="86" width="3" height="21" fill="#ff0000"/>
<rect x="839" y="87" width="1" height="19" fill="#ff4500"/>
<rect x="843" y="44" width="1" height="59" fill="#ff0000"/>
<rect x="842" y="81" width="3" height="6" fill="#ff0000"/>
<rect x="843" y="82" width="1" height="4" fill="#ff4500"/>
<rect x="847" y="79" width="1" height="68" fill="#32cd32"/>
<rect x="846" y="80" width="3" height="46" fill="#32cd32"/>
<rect x="851" y="108" width="1" height="55" fill="#32cd32"/>
<rect x="850" y="126" width="3" height="35" fill="#32cd32"/>
<rect x="855" y="150" width="1" height="5" fill="#ff0000"/>
<rect x="854" y="151" width="3" height="3" fill="#ff0000"/>
<rect x="855" y="152" width="1" height="1" fill="#ff4500"/>
<rect x="859" y="133" width="1" height="48" fill="#ff0000"/>
<rect x="858" y="143" width="3" height="9" fill="#ff0000"/>
<rect x="859" y="144" width="1" height="7" fill="#ff4500"/>
<rect x="863" y="113" width="1" height="52" fill="#32cd32"/>
<rect x="862" y="143" width="3" height="4" fill="#32cd32"/>
<rect x="867" y="128" width="1" height="49" fill="#32cd32"/>
<rect x="866" y="147" width="3" height="23" fill="#32cd32"/>
<rect x="871" y="139" width="1" height="43" fill="#32cd32"/>
<rect x="870" y="169" width="3" height="11" fill="#32cd32"/>
<rect x="875" y="164" width="1" height="45" fill="#ff0000"/>
<rect x="874" y="169" width="3" height="11" fill="#ff0000"/>
<rect x="875" y="170" width="1" height="9" fill="#ff4500"/>
<rect x="879" y="163" width="1" height="5" fill="#ff0000"/>
<rect x="878" y="164" width="3" height="4" fill="#ff0000"/>
<rect x="879" y="165" width="1" height="2" fill="#ff4500"/>
<rect x="883" y="108" width="1" height="62" fill="#ff0000"/>
<rect x="882" y="147" width="3" height="19" fill="#ff0000"/>
<rect x="883" y="148" width="1" height="17" fill="#ff4500"/>
<rect x="887" y="115" width="1" height="63" fill="#32cd32"/>
<rect x="886" y="147" width="3" height="20" fill="#32cd32"/>
<rect x="891" y="164" width="1" height="78" fill="#32cd32"/>
<rect x="890" y="166" width="3" height="66" fill="#32cd32"/>
<rect x="895" y="209" width="1" height="53" fill="#32cd32"/>
<rect x="894" y="231" width="3" height="1" fill="#32cd32"/>
<rect x="899" y="192" width="1" height="49" fill="#ff0000"/>
<rect x="898" y="212" width="3" height="20" fill="#ff0000"/>
<rect x="899" y="213" width="1" height="18" fill="#ff4500"/>
<rect x="903" y="206" width="1" height="4" fill="#32cd32"/>
<rect x="902" y="206" width="3" height="4" fill="#32cd32"/>
<rect x="907" y="191" width="1" height="30" fill="#ff0000"/>
<rect x="906" y="205" width="3" height="5" fill="#ff0000"/>
<rect x="907" y="206" width="1" height="3" fill="#ff4500"/>
<rect x="911" y="177" width="1" height="51" fill="#ff0000"/>
<rect x="910" y="178" width="3" height="28" fill="#ff0000"/>
<rect x="911" y="179" width="1" height="26" fill="#ff4500"/>
<rect x="915" y="134" width="1" height="46" fill="#ff0000"/>
<rect x="914" y="150" width="3" height="30" fill="#ff0000"/>
<rect x="915" y="151" width="1" height="28" fill="#ff4500"/>
<rect x="919" y="136" width="1" height="26" fill="#ff0000"/>
<rect x="918" y="137" width="3" height="14" fill="#ff0000"/>
<rect x="919" y="138" width="1" height="12" fill="#ff4500"/>
<rect x="923" y="115" width="1" height="39" fill="#32cd32"/>
<rect x="922" y="138" width="3" height="8" fill="#32cd32"/>
<rect x="2" y="446" width="3" height="14" fill="#c0c0c0"/>
<rect x="6" y="446" width="3" height="14" fill="#c0c0c0"/>
<rect x="10" y="447" width="3" height="13" fill="#c0c0c0"/>
<rect x="14" y="447" width="3" height="13" fill="#c0c0c0"/>
<rect x="18" y="448" width="3" height="12" fill="#c0c0c0"/>
<rect x="22" y="447" width="3" height="13" fill="#c0c0c0"/>
<rect x="26" y="448" width="3" height="12" fill="#c0c0c0"/>
<rect x="30" y="448" width="3" height="12" fill="#c0c0c0"/>
<rect x="34" y="449" width="3" height="11" fill="#c0c0c0"/>
<rect x="38" y="449" width="3" height="11" fill="#c0c0c0"/>
<rect x="42" y="452" width="3" height="8" fill="#c0c0c0"/>
<rect x="46" y="455" width="3" height="5" fill="#c0c0c0"/>
<rect x="50" y="460" width="3" height="2" fill="#c0c0c0"/>
<rect x="54" y="460" width="3" height="9" fill="#c0c0c0"/>
<rect x="58" y="460" width="3" height="14" fill="#c0c0c0"/>
<rect x="62" y="460" width="3" height="18" fill="#c0c0c0"/>
<rect x="66" y="460" width="3" height="21" fill="#c0c0c0"/>
<rect x="70" y="460" width="3" height="25" fill="#c0c0c0"/>
<rect x="74" y="460" width="3" height="25" fill="#c0c0c0"/>
<rect x="78" y="460" width="3" height="25" fill="#c0c0c0"/>
<rect x="82" y="460" width="3" height="20" fill="#c0c0c0"/>
<rect x="86" y="460" width="3" height="15" fill="#c0c0c0"/>
<rect x="90" y="460" width="3" height="7" fill="#c0c0c0"/>
<rect x="94" y="458" width="3" height="2" fill="#c0c0c0"/>
<rect x="98" y="454" width="3" height="6" fill="#c0c0c0"/>
<rect x="102" y="449" width="3" height="11" fill="#c0c0c0"/>
<rect x="106" y="451" width="3" height="9" fill="#c0c0c0"/>
<rect x="110" y="452" width="3" height="8" fill="#c0c0c0"/>
<rect x="114" y="455" width="3" height="5" fill="#c0c0c0"/>
<rect x="118" y="456" width="3" height="4" fill="#c0c0c0"/>
<rect x="122" y="455" width="3" height="5" fill="#c0c0c0"/>
<rect x="126" y="453" width="3" height="7" fill="#c0c0c0"/>
<rect x="130" y="453" width="3" height="7" fill="#c0c0c0"/>
<rect x="134" y="454" width="3" height="6" fill="#c0c0c0"/>
<rect x="138" y="456" width="3" height="4" fill="#c0c0c0"/>
<rect x="142" y="458" width="3" height="2" fill="#c0c0c0"/>
<rect x="146" y="458" width="3" height="2" fill="#c0c0c0"/>
<rect x="150" y="457" width="3" height="3" fill="#c0c0c0"/>
<rect x="154" y="460" width="3" height="2" fill="#c0c0c0"/>
<rect x="158" y="460" width="3" height="4" fill="#c0c0c0"/>
<rect x="162" y="460" width="3" height="2" fill="#c0c0c0"/>
<rect x="166" y="460" width="3" height="2" fill="#c0c0c0"/>
<rect x="170" y="460" width="3" height="1" fill="#c0c0c0"/>
<rect x="174" y="460" width="3" height="1" fill="#c0c0c0"/>
<rect x="178" y="460" width="3" height="2" fill="#c0c0c0"/>
<rect x="182" y="460" width="3" height="3" fill="#c0c0c0"/>
<rect x="186" y="460" width="3" height="2" fill="#c0c0c0"/>
<rect x="190" y="458" width="3" height="2" fill="#c0c0c0"/>
<rect x="194" y="454" width="3" height="6" fill="#c0c0c0"/>
<rect x="198" y="454" width="3" height="6" fill="#c0c0c0"/>
<rect x="202" y="454" width="3" height="6" fill="#c0c0c0"/>
<rect x="206" y="453" width="3" height="7" fill="#c0c0c0"/>
<rect x="210" y="450" width="3" height="10" fill="#c0c0c0"/>
<rect x="214" y="449" width="3" height="11" fill="#c0c0c0"/>
<rect x="218" y="449" width="3" height="11" fill="#c0c0c0"/>
<rect x="222" y="444" width="3" height="16" fill="#c0c0c0"/>
<rect x="226" y="437" width="3" height="23" fill="#c0c0c0"/>
<rect x="230" y="432" width="3" height="28" fill="#c0c0c0"/>
<rect x="234" y="431" width="3" height="29" fill="#c0c0c0"/>
<rect x="238" y="433" width="3" height="27" fill="#c0c0c0"/>
<rect x="242" y="434" width="3" height="26" fill="#c0c0c0"/>
<rect x="246" y="435" width="3" height="25" fill="#c0c0c0"/>
<rect x="250" y="437" width="3" height="23" fill="#c0c0c0"/>
<rect x="254" y="438" width="3" height="22" fill="#c0c0c0"/>
<rect x="258" y="439" width="3" height="21" fill="#c0c0c0"/>
<rect x="262" y="438" width="3" height="22" fill="#c0c0c0"/>
<rect x="266" y="433" width="3" height="27" fill="#c0c0c0"/>
<rect x="270" y="431" width="3" height="29" fill="#c0c0c0"/>
<rect x="274" y="431" width="3" height="29" fill="#c0c0c0"/>
<rect x="278" y="433" width="3" height="27" fill="#c0c0c0"/>
<rect x="282" y="437" width="3" height="23" fill="#c0c0c0"/>
<rect x="286" y="438" width="3" height="22" fill="#c0c0c0"/>
<rect x="290" y="440" width="3" height="20" fill="#c0c0c0"/>
<rect x="294" y="441" width="3" height="19" fill="#c0c0c0"/>
<rect x="298" y="443" width="3" height="17" fill="#c0c0c0"/>
<rect x="302" y="444" width="3" height="16" fill="#c0c0c0"/>
<rect x="306" y="446" width="3" height="14" fill="#c0c0c0"/>
<rect x="310" y="445" width="3" height="15" fill="#c0c0c0"/>
<rect x="314" y="449" width="3" height="11" fill="#c0c0c0"/>
<rect x="318" y="452" width="3" height="8" fill="#c0c0c0"/>
<rect x="322" y="455" width="3" height="5" fill="#c0c0c0"/>
<rect x="326" y="457" width="3" height="3" fill="#c0c0c0"/>
<rect x="330" y="460" width="3" height="1" fill="#c0c0c0"/>
<rect x="334" y="460" width="3" height="2" fill="#c0c0c0"/>
<rect x="338" y="460" width="3" height="6" fill="#c0c0c0"/>
<rect x="342" y="460" width="3" height="9" fill="#c0c0c0"/>
<rect x="346" y="460" width="3" height="13" fill="#c0c0c0"/>
<rect x="350" y="460" width="3" height="16" fill="#c0c0c0"/>
<rect x="354" y="460" width="3" height="16" fill="#c0c0c0"/>
<rect x="358" y="460" width="3" height="16" fill="#c0c0c0"/>
<rect x="362" y="460" width="3" height="16" fill="#c0c0c0"/>
<rect x="366" y="460" width="3" height="21" fill="#c0c0c0"/>
<rect x="370" y="460" width="3" height="22" fill="#c0c0c0"/>
<rect x="374" y="460" width="3" height="22" fill="#c0c0c0"/>
<rect x="378" y="460" width="3" height="26" fill="#c0c0c0"/>
<rect x="382" y="460" width="3" height="26" fill="#c0c0c0"/>
<rect x="386" y="460" width="3" height="27" fill="#c0c0c0"/>
<rect x="390" y="460" width="3" height="27" fill="#c0c0c0"/>
<rect x="394" y="460" width="3" height="27" fill="#c0c0c0"/>
<rect x="398" y="460" width="3" height="27" fill="#c0c0c0"/>
<rect x="402" y="460" width="3" height="25" fill="#c0c0c0"/>
<rect x="406" y="460" width="3" height="25" fill="#c0c0c0"/>
<rect x="410" y="460" width="3" height="21" fill="#c0c0c0"/>
<rect x="414" y="460" width="3" height="15" fill="#c0c0c0"/>
<rect x="418" y="460" width="3" height="11" fill="#c0c0c0"/>
<rect x="422" y="460" width="3" height="7" fill="#c0c0c0"/>
<rect x="426" y="460" width="3" height="1" fill="#c0c0c0"/>
<rect x="430" y="452" width="3" height="8" fill="#c0c0c0"/>
<rect x="434" y="447" width="3" height="13" fill="#c0c0c0"/>
<rect x="438" y="445" width="3" height="15" fill="#c0c0c0"/>
<rect x="442" y="442" width="3" height="18" fill="#c0c0c0"/>
<rect x="446" y="439" width="3" height="21" fill="#c0c0c0"/>
<rect x="450" y="435" width="3" height="25" fill="#c0c0c0"/>
<rect x="454" y="432" width="3" height="28" fill="#c0c0c0"/>
<rect x="458" y="429" width="3" height="31" fill="#c0c0c0"/>
<rect x="462" y="426" width="3" height="34" fill="#c0c0c0"/>
<rect x="466" y="434" width="3" height="26" fill="#c0c0c0"/>
<rect x="470" y="438" width="3" height="22" fill="#c0c0c0"/>
<rect x="474" y="442" width="3" height="18" fill="#c0c0c0"/>
<rect x="478" y="448" width="3" height="12" fill="#c0c0c0"/>
<rect x="482" y="452" width="3" height="8" fill="#c0c0c0"/>
<rect x="486" y="456" width="3" height="4" fill="#c0c0c0"/>
<rect x="490" y="460" width="3" height="2" fill="#c0c0c0"/>
<rect x="494" y="460" width="3" height="4" fill="#c0c0c0"/>
<rect x="498" y="460" width="3" height="2" fill="#c0c0c0"/>
<rect x="502" y="460" width="3" height="1" fill="#c0c0c0"/>
<rect x="506" y="460" width="3" height="3" fill="#c0c0c0"/>
<rect x="510" y="460" width="3" height="2" fill="#c0c0c0"/>
<rect x="514" y="460" width="3" height="3" fill="#c0c0c0"/>
<rect x="518" y="460" width="3" height="4" fill="#c0c0c0"/>
<rect x="522" y="460" width="3" height="3" fill="#c0c0c0"/>
<rect x="526" y="460" width="3" height="3" fill="#c0c0c0"/>
<rect x="530" y="460" width="3" height="2" fill="#c0c0c0"/>
<rect x="534" y="460" width="3" height="3" fill="#c0c0c0"/>
<rect x="538" y="460" width="3" height="3" fill="#c0c0c0"/>
<rect x="542" y="460" width="3" height="2" fill="#c0c0c0"/>
<rect x="546" y="460" width="3" height="2" fill="#c0c0c0"/>
<rect x="550" y="460" width="3" height="2" fill="#c0c0c0"/>
<rect x="554" y="460" width="3" height="4" fill="#c0c0c0"/>
<rect x="558" y="460" width="3" height="6" fill="#c0c0c0"/>
<rect x="562" y="460" width="3" height="7" fill="#c0c0c0"/>
<rect x="566" y="460" width="3" height="8" fill="#c0c0c0"/>
<rect x="570" y="460" width="3" height="10" fill="#c0c0c0"/>
<rect x="574" y="460" width="3" height="11" fill="#c0c0c0"/>
<rect x="578" y="460" width="3" height="14" fill="#c0c0c0"/>
<rect x="582" y="460" width="3" height="17" fill="#c0c0c0"/>
<rect x="586" y="460" width="3" height="20" fill="#c0c0c0"/>
<rect x="590" y="460" width="3" height="22" fill="#c0c0c0"/>
<rect x="594" y="460" width="3" height="19" fill="#c0c0c0"/>
<rect x="598" y="460" width="3" height="18" fill="#c0c0c0"/>
<rect x="602" y="460" width="3" height="15" fill="#c0c0c0"/>
<rect x="606" y="460" width="3" height="12" fill="#c0c0c0"/>
<rect x="610" y="460" width="3" height="10" fill="#c0c0c0"/>
<rect x="614" y="460" width="3" height="9" fill="#c0c0c0"/>
<rect x="618" y="460" width="3" height="2" fill="#c0c0c0"/>
<rect x="622" y="458" width="3" height="2" fill="#c0c0c0"/>
<rect x="626" y="460" width="3" height="3" fill="#c0c0c0"/>
<rect x="630" y="460" width="3" height="7" fill="#c0c0c0"/>
<rect x="634" y="460" width="3" height="10" fill="#c0c0c0"/>
<rect x="638" y="460" width="3" height="11" fill="#c0c0c0"/>
<rect x="642" y="460" width="3" height="12" fill="#c0c0c0"/>
<rect x="646" y="460" width="3" height="11" fill="#c0c0c0"/>
<rect x="650" y="460" width="3" height="11" fill="#c0c0c0"/>
<rect x="654" y="460" width="3" height="10" fill="#c0c0c0"/>
<rect x="658" y="460" width="3" height="12" fill="#c0c0c0"/>
<rect x="662" y="460" width="3" height="13" fill="#c0c0c0"/>
<rect x="666" y="460" width="3" height="13" fill="#c0c0c0"/>
<rect x="670" y="460" width="3" height="11" fill="#c0c0c0"/>
<rect x="674" y="460" width="3" height="4" fill="#c0c0c0"/>
<rect x="678" y="453" width="3" height="7" fill="#c0c0c0"/>
<rect x="682" y="446" width="3" height="14" fill="#c0c0c0"/>
<rect x="686" y="440" width="3" height="20" fill="#c0c0c0"/>
<rect x="690" y="439" width="3" height="21" fill="#c0c0c0"/>
<rect x="694" y="442" width="3" height="18" fill="#c0c0c0"/>
<rect x="698" y="445" width="3" height="15" fill="#c0c0c0"/>
<rect x="702" y="448" width="3" height="12" fill="#c0c0c0"/>
<rect x="706" y="447" width="3" height="13" fill="#c0c0c0"/>
<rect x="710" y="446" width="3" height="14" fill="#c0c0c0"/>
<rect x="714" y="447" width="3" height="13" fill="#c0c0c0"/>
<rect x="718" y="446" width="3" height="14" fill="#c0c0c0"/>
<rect x="722" y="446" width="3" height="14" fill="#c0c0c0"/>
<rect x="726" y="447" width="3" height="13" fill="#c0c0c0"/>
<rect x="730" y="447" width="3" height="13" fill="#c0c0c0"/>
<rect x="734" y="447" width="3" height="13" fill="#c0c0c0"/>
<rect x="738" y="447" width="3" height="13" fill="#c0c0c0"/>
<rect x="742" y="447" width="3" height="13" fill="#c0c0c0"/>
<rect x="746" y="450" width="3" height="10" fill="#c0c0c0"/>
<rect x="750" y="453" width="3" height="7" fill="#c0c0c0"/>
<rect x="754" y="455" width="3" height="5" fill="#c0c0c0"/>
<rect x="758" y="457" width="3" height="3" fill="#c0c0c0"/>
<rect x="762" y="460" width="3" height="3" fill="#c0c0c0"/>
<rect x="766" y="460" width="3" height="3" fill="#c0c0c0"/>
<rect x="770" y="460" width="3" height="5" fill="#c0c0c0"/>
<rect x="774" y="460" width="3" height="2" fill="#c0c0c0"/>
<rect x="778" y="458" width="3" height="2" fill="#c0c0c0"/>
<rect x="782" y="455" width="3" height="5" fill="#c0c0c0"/>
<rect x="786" y="460" width="3" height="1" fill="#c0c0c0"/>
<rect x="790" y="460" width="3" height="2" fill="#c0c0c0"/>
<rect x="794" y="460" width="3" height="3" fill="#c0c0c0"/>
<rect x="798" y="460" width="3" height="5" fill="#c0c0c0"/>
<rect x="802" y="460" width="3" height="7" fill="#c0c0c0"/>
<rect x="806" y="460" width="3" height="6" fill="#c0c0c0"/>
<rect x="810" y="460" width="3" height="3" fill="#c0c0c0"/>
<rect x="814" y="456" width="3" height="4" fill="#c0c0c0"/>
<rect x="818" y="454" width="3" height="6" fill="#c0c0c0"/>
<rect x="822" y="450" width="3" height="10" fill="#c0c0c0"/>
<rect x="826" y="444" width="3" height="16" fill="#c0c0c0"/>
<rect x="830" y="439" width="3" height="21" fill="#c0c0c0"/>
<rect x="834" y="433" width="3" height="27" fill="#c0c0c0"/>
<rect x="838" y="427" width="3" height="33" fill="#c0c0c0"/>
<rect x="842" y="423" width="3" height="37" fill="#c0c0c0"/>
<rect x="846" y="423" width="3" height="37" fill="#c0c0c0"/>
<rect x="850" y="426" width="3" height="34" fill="#c0c0c0"/>
<rect x="854" y="429" width="3" height="31" fill="#c0c0c0"/>
<rect x="858" y="430" width="3" height="30" fill="#c0c0c0"/>
<rect x="862" y="432" width="3" height="28" fill="#c0c0c0"/>
<rect x="866" y="436" width="3" height="24" fill="#c0c0c0"/>
<rect x="870" y="440" width="3" height="20" fill="#c0c0c0"/>
<rect x="874" y="442" width="3" height="18" fill="#c0c0c0"/>
<rect x="878" y="444" width="3" height="16" fill="#c0c0c0"/>
<rect x="882" y="444" width="3" height="16" fill="#c0c0c0"/>
<rect x="886" y="446" width="3" height="14" fill="#c0c0c0"/>
<rect x="890" y="453" width="3" height="7" fill="#c0c0c0"/>
<rect x="894" y="458" width="3" height="2" fill="#c0c0c0"/>
<rect x="898" y="460" width="3" height="2" fill="#c0c0c0"/>
<rect x="902" y="460" width="3" height="4" fill="#c0c0c0"/>
<rect x="906" y="460" width="3" height="5" fill="#c0c0c0"/>
<rect x="910" y="460" width="3" height="4" fill="#c0c0c0"/>
<rect x="914" y="460" width="3" height="1" fill="#c0c0c0"/>
<rect x="918" y="456" width="3" height="4" fill="#c0c0c0"/>
<rect x="922" y="454" width="3" height="6" fill="#c0c0c0"/>
<polyline points="3.5,432.6 7.5,435.4 11.5,438.8 15.5,442.1 19.5,444.2 23.5,445.4 27.5,446.6 31.5,447.4 35.5,448.2 39.5,448.4 43.5,448.4 47.5,449.2 51.5,450.9 55.5,453.2 59.5,455.9 63.5,459.5 67.5,463.7 71.5,467.8 75.5,471.5 79.5,475.0 83.5,477.5 87.5,478.5 91.5,477.8 95.5,476.1 99.5,474.0 103.5,470.8 107.5,467.5 111.5,463.7 115.5,460.9 119.5,457.9 123.5,455.9 127.5,454.2 131.5,453.4 135.5,453.4 139.5,454.0 143.5,454.5 147.5,455.4 151.5,455.9 155.5,456.7 159.5,457.5 163.5,458.7 167.5,459.5 171.5,459.9 175.5,460.4 179.5,460.9 183.5,461.5 187.5,461.5 191.5,461.2 195.5,460.0 199.5,459.0 203.5,458.4 207.5,458.2 211.5,457.0 215.5,455.4 219.5,454.2 223.5,452.1 227.5,449.1 231.5,446.6 235.5,443.7 239.5,441.8 243.5,439.9 247.5,438.3 251.5,437.1 255.5,435.9 259.5,435.4 263.5,435.4 267.5,435.4 271.5,435.4 275.5,435.4 279.5,435.4 283.5,435.4 287.5,436.3 291.5,436.3 295.5,436.3 299.5,437.4 303.5,438.4 307.5,439.6 311.5,441.6 315.5,443.2 319.5,444.6 323.5,446.6 327.5,448.7 331.5,450.7 335.5,452.4 339.5,454.5 343.5,457.5 347.5,460.9 351.5,463.7 355.5,466.2 359.5,468.3 363.5,470.3 367.5,472.0 371.5,474.0 375.5,475.8 379.5,477.8 383.5,479.1 387.5,480.0 391.5,481.5 395.5,482.5 399.5,484.1 403.5,484.9 407.5,485.3 411.5,485.3 415.5,484.1 419.5,482.3 423.5,480.3 427.5,477.0 431.5,472.8 435.5,468.3 439.5,463.7 443.5,459.5 447.5,454.9 451.5,450.9 455.5,446.6 459.5,442.6 463.5,438.8 467.5,437.1 471.5,435.9 475.5,435.1 479.5,435.8 483.5,437.1 487.5,439.6 491.5,442.6 495.5,446.6 499.5,450.4 503.5,453.7 507.5,455.9 511.5,457.9 515.5,460.4 519.5,461.5 523.5,462.4 527.5,462.4 531.5,461.5 535.5,461.5 539.5,462.4 543.5,461.5 547.5,461.5 551.5,461.5 555.5,461.5 559.5,462.4 563.5,462.4 567.5,463.2 571.5,464.5 575.5,465.3 579.5,466.7 583.5,468.7 587.5,470.8 591.5,472.5 595.5,473.3 599.5,474.5 603.5,475.3 607.5,475.3 611.5,475.3 615.5,475.3 619.5,473.6 623.5,471.5 627.5,469.5 631.5,467.3 635.5,467.3 639.5,466.5 643.5,466.5 647.5,466.5 651.5,466.5 655.5,467.3 659.5,469.5 663.5,470.3 667.5,470.3 671.5,470.3 675.5,470.3 679.5,468.3 683.5,465.3 687.5,461.5 691.5,457.9 695.5,454.5 699.5,451.7 703.5,449.1 707.5,447.1 711.5,445.1 715.5,444.2 719.5,444.2 723.5,445.1 727.5,446.2 731.5,446.6 735.5,446.6 739.5,446.6 743.5,446.6 747.5,447.6 751.5,448.4 755.5,449.6 759.5,450.7 763.5,452.1 767.5,453.7 771.5,455.9 775.5,457.9 779.5,458.4 783.5,458.4 787.5,459.5 791.5,460.7 795.5,460.7 799.5,461.2 803.5,461.5 807.5,461.5 811.5,461.5 815.5,461.5 819.5,461.2 823.5,459.5 827.5,457.9 831.5,455.9 835.5,452.1 839.5,447.6 843.5,442.9 847.5,439.1 851.5,436.3 855.5,433.3 859.5,431.0 863.5,429.3 867.5,429.3 871.5,430.0 875.5,431.8 879.5,434.3 883.5,436.3 887.5,438.3 891.5,441.3 895.5,444.6 899.5,447.9 903.5,450.9 907.5,453.4 911.5,455.4 915.5,457.4 919.5,458.4 923.5,459.5" fill="none" stroke="#ff0000" stroke-width="1" shape-rendering="crispEdges"/>
<polyline points="3.5,531.9 7.5,527.7 11.5,526.4 15.5,527.4 19.5,527.4 23.5,524.4 27.5,529.4 31.5,527.2 35.5,526.4 39.5,527.7 43.5,531.9 47.5,533.5 51.5,537.7 55.5,541.3 59.5,540.2 63.5,540.2 67.5,541.3 71.5,542.3 75.5,538.5 79.5,536.9 83.5,526.6 87.5,526.1 91.5,521.4 95.5,519.1 99.5,521.4 103.5,520.2 107.5,529.4 111.5,529.9 115.5,532.4 119.5,529.9 123.5,527.4 127.5,526.1 131.5,527.4 135.5,528.5 139.5,533.5 143.5,532.4 147.5,531.4 151.5,526.4 155.5,533.5 159.5,533.5 163.5,527.4 167.5,529.4 171.5,529.4 175.5,530.2 179.5,531.4 183.5,531.4 187.5,529.4 191.5,524.4 195.5,522.2 199.5,529.4 203.5,527.4 207.5,527.4 211.5,523.2 215.5,526.6 219.5,526.6 223.5,520.2 227.5,516.6 231.5,516.6 235.5,522.2 239.5,527.4 243.5,524.4 247.5,526.6 251.5,526.6 255.5,526.6 259.5,525.2 263.5,522.4 267.5,518.2 271.5,520.6 275.5,523.2 279.5,524.4 283.5,529.4 287.5,526.6 291.5,527.4 295.5,526.4 299.5,528.5 303.5,527.4 307.5,527.4 311.5,524.4 315.5,532.4 319.5,531.4 323.5,533.5 327.5,532.4 331.5,532.4 335.5,534.4 339.5,537.2 343.5,538.5 347.5,540.5 351.5,539.3 355.5,534.4 359.5,534.4 363.5,536.4 367.5,542.3 371.5,537.7 375.5,536.4 379.5,541.3 383.5,534.7 387.5,537.3 391.5,536.4 395.5,536.4 399.5,536.4 403.5,534.7 407.5,536.9 411.5,529.4 415.5,525.6 419.5,526.6 423.5,526.6 427.5,522.4 431.5,518.2 435.5,521.1 439.5,524.4 443.5,521.9 447.5,521.4 451.5,518.6 455.5,518.2 459.5,517.2 463.5,516.6 467.5,532.4 471.5,530.5 475.5,531.9 479.5,534.4 483.5,533.2 487.5,533.2 491.5,535.5 495.5,534.4 499.5,527.4 503.5,528.5 507.5,532.4 511.5,529.4 515.5,531.4 519.5,531.4 523.5,530.2 527.5,528.2 531.5,528.5 535.5,533.5 539.5,528.2 543.5,529.4 547.5,531.4 551.5,529.4 555.5,533.2 559.5,534.7 563.5,533.2 567.5,533.2 571.5,535.5 575.5,535.5 579.5,539.3 583.5,539.3 587.5,541.3 591.5,540.2 595.5,530.5 599.5,533.2 603.5,531.4 607.5,526.4 611.5,530.5 615.5,529.4 619.5,521.4 623.5,525.2 627.5,534.4 631.5,536.4 635.5,534.4 639.5,533.5 643.5,533.5 647.5,530.5 651.5,532.4 655.5,530.5 659.5,535.5 663.5,534.4 667.5,532.4 671.5,528.5 675.5,523.6 679.5,518.6 683.5,518.2 687.5,518.6 691.5,524.4 695.5,529.4 699.5,531.9 703.5,530.5 707.5,525.6 711.5,526.4 715.5,528.2 719.5,526.4 723.5,527.4 727.5,525.6 731.5,526.4 735.5,527.4 739.5,527.4 743.5,526.4 747.5,531.4 751.5,533.5 755.5,531.4 759.5,531.4 763.5,537.3 767.5,530.5 771.5,534.4 775.5,526.4 779.5,525.6 783.5,525.6 787.5,534.7 791.5,533.2 795.5,531.4 799.5,533.5 803.5,533.5 807.5,531.4 811.5,526.4 815.5,522.4 819.5,526.6 823.5,523.6 827.5,520.6 831.5,520.2 835.5,517.7 839.5,516.1 843.5,516.4 847.5,522.2 851.5,527.4 855.5,526.4 859.5,525.6 863.5,525.6 867.5,528.2 871.5,530.5 875.5,528.5 879.5,528.5 883.5,525.6 887.5,527.4 891.5,536.4 895.5,536.4 899.5,533.5 903.5,533.5 907.5,532.4 911.5,529.4 915.5,525.6 919.5,523.2 923.5,524.7" fill="none" stroke="#1e90ff" stroke-width="1" shape-rendering="crispEdges"/>
</g>
</svg>

<!-- chart frames -->
<div class="a" style="left:2px;top:24px;width:1163px;height:392px;border:1px solid #000;border-right:1px solid #000;box-sizing:border-box;width:1164px;height:393px"></div>
<div class="a" style="left:2px;top:418px;width:1164px;height:73px;border:1px solid #000;box-sizing:border-box"></div>
<div class="a" style="left:2px;top:492px;width:1164px;height:75px;border:1px solid #000;box-sizing:border-box"></div>

<!-- price tags -->
<div class="a" style="left:1165px;top:107px;width:1px;height:2px;background:#ff0000"></div>
<div class="a" style="left:1165px;top:173px;width:1px;height:2px;background:#00ff80"></div>
<div class="a" style="left:1165px;top:223px;width:1px;height:2px;background:#0000ff"></div>
<div class="a" style="left:1165px;top:272px;width:1px;height:2px;background:#0000ff"></div>
<div class="a" style="left:1167px;top:102px;width:37px;height:11px;background:#ff0000;z-index:2"></div>
<div class="a" style="left:1167px;top:140px;width:37px;height:11px;background:#000;z-index:2"></div>
<div class="a" style="left:1167px;top:168px;width:37px;height:11px;background:#00ff80;z-index:2"></div>
<div class="a" style="left:1167px;top:218px;width:37px;height:11px;background:#0000ff;z-index:2"></div>
<div class="a" style="left:1167px;top:267px;width:37px;height:11px;background:#0000ff;z-index:2"></div>

<!-- one click trading panel -->
<div class="a" style="left:6px;top:44px;width:52px;height:25px;background:linear-gradient(#f44d4d,#e23232);border:1px solid #c81414;border-bottom:none;box-sizing:border-box"></div>
<div class="a" style="left:6px;top:68px;width:109px;height:33px;background:linear-gradient(#dc2a2a,#c01010 55%,#ae0000);border:1px solid #b40a0a;border-top:none;box-sizing:border-box"></div>
<div class="a" style="left:10px;top:67px;width:44px;height:1px;background:#b00c0c"></div>
<div class="a" style="left:10px;top:68px;width:44px;height:1px;background:#ee5a5a"></div>
<div class="a" style="left:173px;top:44px;width:52px;height:25px;background:linear-gradient(#f44d4d,#e23232);border:1px solid #c81414;border-bottom:none;box-sizing:border-box"></div>
<div class="a" style="left:117px;top:68px;width:108px;height:33px;background:linear-gradient(#dc2a2a,#c01010 55%,#ae0000);border:1px solid #b40a0a;border-top:none;box-sizing:border-box"></div>
<div class="a" style="left:177px;top:67px;width:44px;height:1px;background:#b00c0c"></div>
<div class="a" style="left:177px;top:68px;width:44px;height:1px;background:#ee5a5a"></div>
<div class="a" style="left:57px;top:68px;width:58px;height:1px;background:#b20808"></div>
<div class="a" style="left:117px;top:68px;width:57px;height:1px;background:#b20808"></div>
<!-- volume spinner -->
<div class="a" style="left:60px;top:44px;width:111px;height:22px;background:#fff;border:1px solid #a9a9a9;box-sizing:border-box"></div>
<div class="a" style="left:61px;top:45px;width:21px;height:20px;background:linear-gradient(#ececec,#d9d9d9 50%,#c9c9c9);border-right:1px solid #a9a9a9;box-sizing:border-box"></div>
<div class="a" style="left:150px;top:45px;width:20px;height:20px;background:linear-gradient(#ececec,#d9d9d9 50%,#c9c9c9);border-left:1px solid #a9a9a9;box-sizing:border-box"></div>
<svg class="a" style="left:0;top:0" width="240" height="110" viewBox="0 0 240 110">
<path d="M67.5 53 L73.5 53 L70.5 56.5 Z" fill="#4a63c0"/>
<path d="M156.5 56.5 L162.5 56.5 L159.5 53 Z" fill="#4a63c0"/>
<path d="M6 35.6 L13 35.6 L9.5 31.6 Z" fill="#000"/>
<defs><linearGradient id="pg" gradientUnits="userSpaceOnUse" x1="0" y1="-27.9" x2="0" y2="5.1">
<stop offset="0" stop-color="#dc2a2a"/><stop offset="0.55" stop-color="#c01010"/><stop offset="1" stop-color="#ae0000"/></linearGradient></defs>
<text transform="translate(53.7,95.9) scale(0.87,1)" font-family="Liberation Sans, sans-serif" font-size="35.3" letter-spacing="1.9" fill="#fff" stroke="url(#pg)" stroke-width="0.55">36</text>
<text transform="translate(164.7,95.9) scale(0.87,1)" font-family="Liberation Sans, sans-serif" font-size="35.3" letter-spacing="1.9" fill="#fff" stroke="url(#pg)" stroke-width="0.55">38</text>
</svg>

<!-- tab bar -->
<div class="a" style="left:0;top:587px;width:1204px;height:1px;background:#e3e3e3"></div>
<div class="a" style="left:0;top:589px;width:1204px;height:22px;background:#f0f0f0"></div>
<div class="a" style="left:0;top:589px;width:1204px;height:1px;background:#000"></div>
<div class="a" style="left:0;top:590px;width:1204px;height:1px;background:#fbfbfb"></div>
<div class="a" style="left:0;top:609px;width:1204px;height:1px;background:#fcfcfc"></div>
<div class="a" style="left:320px;top:589px;width:109px;height:19px;background:#fff;border:1px solid #000;border-top:1px solid #fff;box-sizing:border-box"></div>
<div class="a" style="left:104.0px;top:594px;width:1px;height:13px;background:#8a8a8a"></div><div class="a" style="left:212.0px;top:594px;width:1px;height:13px;background:#8a8a8a"></div><div class="a" style="left:536.0px;top:594px;width:1px;height:13px;background:#8a8a8a"></div><div class="a" style="left:648.0px;top:594px;width:1px;height:13px;background:#8a8a8a"></div><div class="a" style="left:755.5px;top:594px;width:1px;height:13px;background:#8a8a8a"></div><div class="a" style="left:848.0px;top:594px;width:1px;height:13px;background:#8a8a8a"></div><div class="a" style="left:935.5px;top:594px;width:1px;height:13px;background:#8a8a8a"></div><div class="a" style="left:1020.5px;top:594px;width:1px;height:13px;background:#8a8a8a"></div><div class="a" style="left:1099.0px;top:594px;width:1px;height:13px;background:#8a8a8a"></div>
<svg class="a" style="left:1170px;top:590px" width="34" height="20" viewBox="0 0 34 20">
<path d="M15 5 L15 13 L11 9 Z" fill="#9a9a9a"/>
<path d="M30 4.5 L30 13.5 L34.5 9 Z" fill="#000"/>
</svg>

<span class="t" style="left:-3.46px;top:4px;font-size:10.2px;color:#3a3a3a;text-rendering:geometricPrecision;transform:scaleX(1.2197);">5</span>
<span class="t" style="left:13.54px;top:4px;font-size:10.2px;color:#3a3a3a;text-rendering:geometricPrecision;transform:scaleX(0.9793);">M30</span>
<span class="t" style="left:44.54px;top:4px;font-size:10.2px;color:#3a3a3a;text-rendering:geometricPrecision;transform:scaleX(1.0297);">H1</span>
<span class="t" style="left:72.54px;top:4px;font-size:10.2px;color:#3a3a3a;text-rendering:geometricPrecision;transform:scaleX(1.0297);">H4</span>
<span class="t" style="left:100.54px;top:4px;font-size:10.2px;color:#3a3a3a;text-rendering:geometricPrecision;transform:scaleX(0.9913);">D1</span>
<span class="t" style="left:128.54px;top:4px;font-size:10.2px;color:#3a3a3a;text-rendering:geometricPrecision;transform:scaleX(1.0089);">W1</span>
<span class="t" style="left:155.54px;top:4px;font-size:10.2px;color:#3a3a3a;text-rendering:geometricPrecision;transform:scaleX(1.0047);">MN</span>
<span class="t" style="left:18.04px;top:28px;font-size:10.2px;color:#000;text-rendering:geometricPrecision;-webkit-text-stroke:0.1px #000;transform:scaleX(0.9524);">USDCHF-,Daily</span>
<span class="t" style="left:91.84px;top:28px;font-size:10.2px;color:#000;text-rendering:geometricPrecision;-webkit-text-stroke:0.1px #000;transform:scaleX(0.9047);">0.93445</span>
<span class="t" style="left:127.84px;top:28px;font-size:10.2px;color:#000;text-rendering:geometricPrecision;-webkit-text-stroke:0.1px #000;transform:scaleX(0.9047);">0.93728</span>
<span class="t" style="left:163.84px;top:28px;font-size:10.2px;color:#000;text-rendering:geometricPrecision;-webkit-text-stroke:0.1px #000;transform:scaleX(0.9047);">0.93262</span>
<span class="t" style="left:199.84px;top:28px;font-size:10.2px;color:#000;text-rendering:geometricPrecision;-webkit-text-stroke:0.1px #000;transform:scaleX(0.9047);">0.93360</span>
<span class="t" style="left:17.76px;top:49px;font-size:12.0px;color:#fff;text-rendering:geometricPrecision;z-index:3;transform:scaleX(0.9156);">SELL</span>
<span class="t" style="left:186.06px;top:49px;font-size:12.0px;color:#fff;text-rendering:geometricPrecision;z-index:3;transform:scaleX(0.9349);">BUY</span>
<span class="t" style="left:122.07px;top:47px;font-size:11.8px;color:#000;text-rendering:geometricPrecision;transform:scaleX(1.0476);">0.50</span>
<span class="t" style="left:25.72px;top:86px;font-size:10.6px;color:#fff;font-weight:bold;z-index:3;transform:scaleX(1.1905);">0.93</span>
<span class="t" style="left:135.72px;top:86px;font-size:10.6px;color:#fff;font-weight:bold;z-index:3;transform:scaleX(1.1905);">0.93</span>
<span class="t" style="left:92.24px;top:69px;font-size:12.4px;color:#fff;font-weight:bold;z-index:3;transform:scaleX(1.1752);">0</span>
<span class="t" style="left:203.84px;top:69px;font-size:12.4px;color:#fff;font-weight:bold;z-index:3;transform:scaleX(1.0159);">1</span>
<span class="t" style="left:7.04px;top:423px;font-size:10.2px;color:#000;text-rendering:geometricPrecision;-webkit-text-stroke:0.1px #000;transform:scaleX(0.9182);">MACD(12,26,9) 0.000767 0.000130</span>
<span class="t" style="left:7.04px;top:497px;font-size:10.2px;color:#000;text-rendering:geometricPrecision;-webkit-text-stroke:0.1px #000;transform:scaleX(0.9124);">RSI(14) 57.0686</span>
<span class="t" style="left:1170.54px;top:46px;font-size:10.2px;color:#000;text-rendering:geometricPrecision;-webkit-text-stroke:0.1px #000;transform:scaleX(0.9074);">0.94520</span>
<span class="t" style="left:1170.54px;top:79px;font-size:10.2px;color:#000;text-rendering:geometricPrecision;-webkit-text-stroke:0.1px #000;transform:scaleX(0.9074);">0.94120</span>
<span class="t" style="left:1170.54px;top:112px;font-size:10.2px;color:#000;text-rendering:geometricPrecision;-webkit-text-stroke:0.1px #000;transform:scaleX(0.9074);">0.93710</span>
<span class="t" style="left:1170.54px;top:145px;font-size:10.2px;color:#000;text-rendering:geometricPrecision;-webkit-text-stroke:0.1px #000;transform:scaleX(0.9074);">0.93310</span>
<span class="t" style="left:1170.54px;top:178px;font-size:10.2px;color:#000;text-rendering:geometricPrecision;-webkit-text-stroke:0.1px #000;transform:scaleX(0.9074);">0.92910</span>
<span class="t" style="left:1170.54px;top:211px;font-size:10.2px;color:#000;text-rendering:geometricPrecision;-webkit-text-stroke:0.1px #000;transform:scaleX(0.9074);">0.92510</span>
<span class="t" style="left:1170.54px;top:244px;font-size:10.2px;color:#000;text-rendering:geometricPrecision;-webkit-text-stroke:0.1px #000;transform:scaleX(0.9074);">0.92100</span>
<span class="t" style="left:1170.54px;top:277px;font-size:10.2px;color:#000;text-rendering:geometricPrecision;-webkit-text-stroke:0.1px #000;transform:scaleX(0.9074);">0.91700</span>
<span class="t" style="left:1170.54px;top:310px;font-size:10.2px;color:#000;text-rendering:geometricPrecision;-webkit-text-stroke:0.1px #000;transform:scaleX(0.9074);">0.91300</span>
<span class="t" style="left:1170.54px;top:343px;font-size:10.2px;color:#000;text-rendering:geometricPrecision;-webkit-text-stroke:0.1px #000;transform:scaleX(0.9074);">0.90890</span>
<span class="t" style="left:1170.54px;top:376px;font-size:10.2px;color:#000;text-rendering:geometricPrecision;-webkit-text-stroke:0.1px #000;transform:scaleX(0.9074);">0.90490</span>
<span class="t" style="left:1170.54px;top:409px;font-size:10.2px;color:#000;text-rendering:geometricPrecision;-webkit-text-stroke:0.1px #000;transform:scaleX(0.9074);">0.90090</span>
<span class="t" style="left:1170.54px;top:103px;font-size:10.2px;color:#fff;text-rendering:geometricPrecision;z-index:3;-webkit-text-stroke:0.1px #fff;transform:scaleX(0.9074);">0.93807</span>
<span class="t" style="left:1170.54px;top:141px;font-size:10.2px;color:#fff;text-rendering:geometricPrecision;z-index:3;-webkit-text-stroke:0.1px #fff;transform:scaleX(0.9074);">0.93360</span>
<span class="t" style="left:1170.54px;top:169px;font-size:10.2px;color:#fff;text-rendering:geometricPrecision;z-index:3;-webkit-text-stroke:0.1px #fff;transform:scaleX(0.9074);">0.93014</span>
<span class="t" style="left:1170.54px;top:219px;font-size:10.2px;color:#fff;text-rendering:geometricPrecision;z-index:3;-webkit-text-stroke:0.1px #fff;transform:scaleX(0.9074);">0.92403</span>
<span class="t" style="left:1170.54px;top:268px;font-size:10.2px;color:#fff;text-rendering:geometricPrecision;z-index:3;-webkit-text-stroke:0.1px #fff;transform:scaleX(0.9074);">0.91800</span>
<span class="t" style="left:1168.74px;top:421px;font-size:10.2px;color:#000;text-rendering:geometricPrecision;-webkit-text-stroke:0.1px #000;transform:scaleX(0.9063);">0.004913</span>
<span class="t" style="left:1168.94px;top:456px;font-size:10.2px;color:#000;text-rendering:geometricPrecision;-webkit-text-stroke:0.1px #000;transform:scaleX(0.9339);">0.00</span>
<span class="t" style="left:1168.54px;top:479px;font-size:10.2px;color:#000;text-rendering:geometricPrecision;-webkit-text-stroke:0.1px #000;transform:scaleX(0.9091);">-0.003612</span>
<span class="t" style="left:1168.34px;top:495px;font-size:10.2px;color:#000;text-rendering:geometricPrecision;-webkit-text-stroke:0.1px #000;transform:scaleX(0.9246);">100</span>
<span class="t" style="left:1168.34px;top:511px;font-size:10.2px;color:#000;text-rendering:geometricPrecision;-webkit-text-stroke:0.1px #000;transform:scaleX(0.9448);">70</span>
<span class="t" style="left:1168.34px;top:540px;font-size:10.2px;color:#000;text-rendering:geometricPrecision;-webkit-text-stroke:0.1px #000;transform:scaleX(0.9448);">30</span>
<span class="t" style="left:1168.34px;top:555px;font-size:10.2px;color:#000;text-rendering:geometricPrecision;-webkit-text-stroke:0.1px #000;transform:scaleX(0.9729);">0</span>
<span class="t" style="left:2.34px;top:571px;font-size:10.2px;color:#000;text-rendering:geometricPrecision;-webkit-text-stroke:0.1px #000;transform:scaleX(0.8810);">14 Jul 2021</span>
<span class="t" style="left:66.34px;top:571px;font-size:10.2px;color:#000;text-rendering:geometricPrecision;-webkit-text-stroke:0.1px #000;transform:scaleX(0.9390);">2 Aug 2021</span>
<span class="t" style="left:130.34px;top:571px;font-size:10.2px;color:#000;text-rendering:geometricPrecision;-webkit-text-stroke:0.1px #000;transform:scaleX(0.9246);">20 Aug 2021</span>
<span class="t" style="left:194.34px;top:571px;font-size:10.2px;color:#000;text-rendering:geometricPrecision;-webkit-text-stroke:0.1px #000;transform:scaleX(0.9001);">8 Sep 2021</span>
<span class="t" style="left:258.34px;top:571px;font-size:10.2px;color:#000;text-rendering:geometricPrecision;-webkit-text-stroke:0.1px #000;transform:scaleX(0.9069);">27 Sep 2021</span>
<span class="t" style="left:322.34px;top:571px;font-size:10.2px;color:#000;text-rendering:geometricPrecision;-webkit-text-stroke:0.1px #000;transform:scaleX(0.9082);">15 Oct 2021</span>
<span class="t" style="left:386.34px;top:571px;font-size:10.2px;color:#000;text-rendering:geometricPrecision;-webkit-text-stroke:0.1px #000;transform:scaleX(0.9388);">3 Nov 2021</span>
<span class="t" style="left:450.34px;top:571px;font-size:10.2px;color:#000;text-rendering:geometricPrecision;-webkit-text-stroke:0.1px #000;transform:scaleX(0.9331);">22 Nov 2021</span>
<span class="t" style="left:514.34px;top:571px;font-size:10.2px;color:#000;text-rendering:geometricPrecision;-webkit-text-stroke:0.1px #000;transform:scaleX(0.8985);">10 Dec 2021</span>
<span class="t" style="left:578.34px;top:571px;font-size:10.2px;color:#000;text-rendering:geometricPrecision;-webkit-text-stroke:0.1px #000;transform:scaleX(0.8899);">29 Dec 2021</span>
<span class="t" style="left:642.34px;top:571px;font-size:10.2px;color:#000;text-rendering:geometricPrecision;-webkit-text-stroke:0.1px #000;transform:scaleX(0.8988);">17 Jan 2022</span>
<span class="t" style="left:706.34px;top:571px;font-size:10.2px;color:#000;text-rendering:geometricPrecision;-webkit-text-stroke:0.1px #000;transform:scaleX(0.9199);">4 Feb 2022</span>
<span class="t" style="left:770.34px;top:571px;font-size:10.2px;color:#000;text-rendering:geometricPrecision;-webkit-text-stroke:0.1px #000;transform:scaleX(0.9074);">23 Feb 2022</span>
<span class="t" style="left:834.34px;top:571px;font-size:10.2px;color:#000;text-rendering:geometricPrecision;-webkit-text-stroke:0.1px #000;transform:scaleX(0.9076);">14 Mar 2022</span>
<span class="t" style="left:898.34px;top:571px;font-size:10.2px;color:#000;text-rendering:geometricPrecision;-webkit-text-stroke:0.1px #000;transform:scaleX(0.9318);">1 Apr 2022</span>
<span class="t" style="left:14.46px;top:593px;font-size:12.1px;color:#7d7d7d;transform:scaleX(1.0353);">USDX,Weekly</span>
<span class="t" style="left:114.46px;top:593px;font-size:12.1px;color:#7d7d7d;transform:scaleX(1.0087);">EURUSD-,Daily</span>
<span class="t" style="left:221.46px;top:593px;font-size:12.1px;color:#7d7d7d;transform:scaleX(1.0263);">AUDUSD-,Daily</span>
<span class="t" style="left:332.06px;top:593px;font-size:12.1px;color:#000;transform:scaleX(0.9980);">USDCHF-,Daily</span>
<span class="t" style="left:438.46px;top:593px;font-size:12.1px;color:#7d7d7d;transform:scaleX(1.0204);">USDCAD-,Daily</span>
<span class="t" style="left:547.96px;top:593px;font-size:12.1px;color:#7d7d7d;transform:scaleX(1.0299);">USDCNH-,Daily</span>
<span class="t" style="left:657.96px;top:593px;font-size:12.1px;color:#7d7d7d;transform:scaleX(1.0345);">XAUUSD-,Daily</span>
<span class="t" style="left:766.46px;top:593px;font-size:12.1px;color:#7d7d7d;transform:scaleX(1.0642);">UKOil-,Daily</span>
<span class="t" style="left:859.46px;top:593px;font-size:12.1px;color:#7d7d7d;transform:scaleX(1.0332);">DJ30-,Daily</span>
<span class="t" style="left:946.46px;top:593px;font-size:12.1px;color:#7d7d7d;transform:scaleX(1.0461);">UK100-,H1</span>
<span class="t" style="left:1031.46px;top:593px;font-size:12.1px;color:#7d7d7d;transform:scaleX(1.0303);">USOil-,H1</span>
<span class="t" style="left:1109.46px;top:593px;font-size:12.1px;color:#7d7d7d;transform:scaleX(1.0467);">HK50-,H1</span>
</body></html>
